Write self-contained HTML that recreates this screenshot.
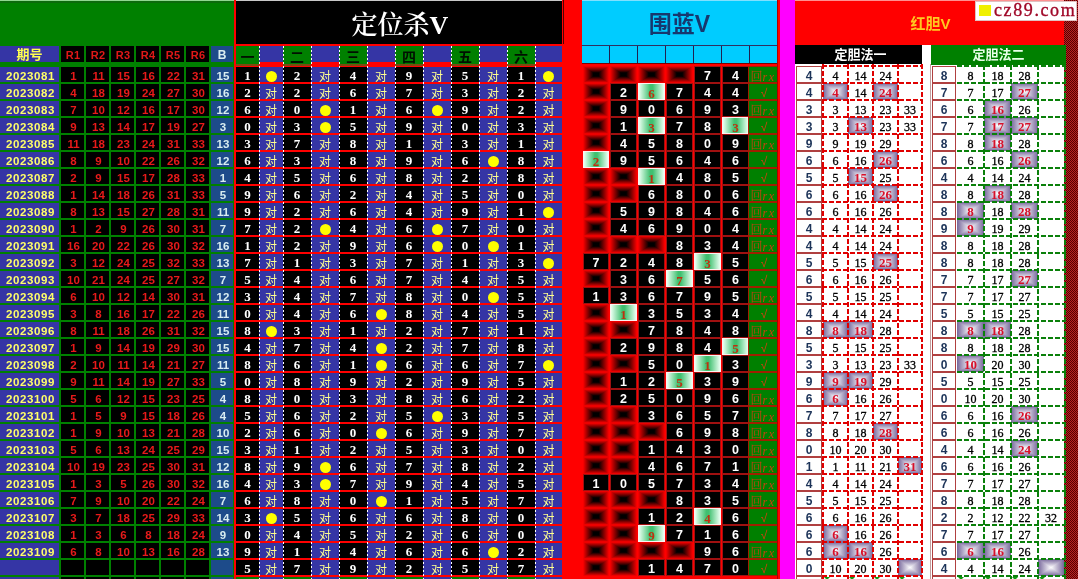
<!DOCTYPE html>
<html><head><meta charset="utf-8"><style>
*{margin:0;padding:0}
html,body{width:1078px;height:579px;overflow:hidden;background:#fff}
body{position:relative}
div{position:absolute;overflow:hidden;white-space:nowrap}
span{position:relative}
.c{display:flex;align-items:center;justify-content:center}
.qb{background:#3535a5}
.bk{background:#000}
.bb{background:#1d4b8a}
.wd{background:repeating-linear-gradient(180deg,#fff 0 2px,transparent 2px 4px)}
.bl{background:linear-gradient(90deg,#f00,#000 40%,#000 60%,#f00),linear-gradient(180deg,#f00,#000 40%,#000 60%,#f00);background-blend-mode:lighten}
.hl{border:1px solid #fff0f0;box-sizing:border-box;background:linear-gradient(90deg,#e8fff0 0%,#40c070 45%,#40c070 55%,#e8fff0 100%)}
.wb{border:1px solid #a01010;box-sizing:border-box;background:#000}
.rs{background:#008000;outline:1px solid #a02000}
.kb{border:1px solid #b04040;box-sizing:border-box;background:#fff}
.hg{background:linear-gradient(90deg,#76669a,#fff 50%,#76669a),linear-gradient(180deg,#76669a,#fff 50%,#76669a);background-blend-mode:darken}
.vr{background:repeating-linear-gradient(180deg,#e00000 0 5px,transparent 5px 7px)}
.vg{background:repeating-linear-gradient(180deg,#0a800a 0 5px,transparent 5px 7px)}
.hr2{background:repeating-linear-gradient(90deg,#e00000 0 5px,transparent 5px 7px)}
.hg2{background:repeating-linear-gradient(90deg,#0a800a 0 5px,transparent 5px 7px)}
.h1{color:#ffff50;font:bold 13px/16px 'Liberation Sans','Noto Sans CJK SC',sans-serif;top:1px}
.hr{color:#e01818;font:bold 11px/16px 'Liberation Sans',sans-serif;top:1px;left:.5px;letter-spacing:.3px}
.hb{color:#d8ecf0;font:bold 12px/16px 'Liberation Sans',sans-serif;top:1px}
.h6{color:#001000;font:bold 14px/18px 'Liberation Sans','Noto Sans CJK SC',sans-serif;top:2px}
.t1{color:#fff;font:600 26px/43px 'Liberation Serif','Noto Serif CJK SC',serif;top:3px;left:1px}
.t2{color:#17386e;font:bold 23px/45px 'Liberation Sans','Noto Sans CJK SC',sans-serif;top:1.5px;left:0px}
.t3{color:#ffc820;font:bold 15px/46px 'Liberation Sans','Noto Sans CJK SC',sans-serif;left:1px;top:1.5px}
.t4{color:#fff;font:bold 13px/19px 'Liberation Sans','Noto Sans CJK SC',sans-serif;left:2px}
.t5{color:#e8ffe8;font:bold 13px/20px 'Liberation Sans','Noto Sans CJK SC',sans-serif}
.pn{color:#ffff68;font:bold 11.5px/15px 'Liberation Sans',sans-serif;top:1.5px;left:1px;letter-spacing:.6px}
.rn{color:#e81a1a;font:bold 11.5px/15px 'Liberation Sans',sans-serif;top:1.5px;left:1px}
.bn{color:#d8ecf0;font:bold 11.5px/15px 'Liberation Sans',sans-serif;top:1.5px;left:1px}
.dn{color:#fff;font:bold 13px/15px 'Liberation Serif',serif;top:.5px}
.dd{color:#ffff90;font:400 12px/15px 'Liberation Sans','Noto Sans CJK SC',sans-serif;top:3px}
.dot{display:block;width:11px;height:11px;border-radius:50%;background:#ffff00;margin-top:3px}
.wn{color:#fff;font:bold 12.5px/15px 'Liberation Sans',sans-serif;top:2px}
.hn{color:#c03010;font:bold 13px/15px 'Liberation Serif',serif;top:2px}
.ok{color:#d04010;font:12px/15px 'Liberation Sans',sans-serif;top:1.5px;left:1px}
.ng{color:#c84010;font:12px/15px 'Liberation Serif','Noto Serif CJK SC',serif;top:2.5px}
.ng i{font:italic 12px/15px 'Liberation Serif',serif;letter-spacing:1.5px}
.hk{color:#1c3358;font:bold 12px/15px 'Liberation Sans',sans-serif;top:2px}
.hv{color:#000;font:12px/15px 'Liberation Serif',serif;top:1.5px;-webkit-text-stroke:.3px #000}
.hh{color:#d8102a;font:bold 13px/15px 'Liberation Serif',serif;top:.5px}
.wm{color:#a00828;font:18px/21px 'Liberation Serif',serif;letter-spacing:1.6px;-webkit-text-stroke:.35px #a00828}
</style></head>
<body>
<div style="left:0px;top:0px;width:234px;height:579px;background:#008000"></div>
<div style="left:0px;top:0px;width:234px;height:1px;background:#8fd88f"></div>
<div style="left:0px;top:1px;width:234px;height:2px;background:#0c6a0c"></div>
<div class="c qb" style="left:0px;top:46px;width:59px;height:16px;"><span class="h1">期号</span></div>
<div class="c bk" style="left:61px;top:46px;width:23px;height:16px;"><span class="hr">R1</span></div>
<div class="c bk" style="left:86px;top:46px;width:23px;height:16px;"><span class="hr">R2</span></div>
<div class="c bk" style="left:111px;top:46px;width:23px;height:16px;"><span class="hr">R3</span></div>
<div class="c bk" style="left:136px;top:46px;width:23px;height:16px;"><span class="hr">R4</span></div>
<div class="c bk" style="left:161px;top:46px;width:23px;height:16px;"><span class="hr">R5</span></div>
<div class="c bk" style="left:186px;top:46px;width:23px;height:16px;"><span class="hr">R6</span></div>
<div class="c bb" style="left:211px;top:46px;width:22px;height:16px;"><span class="hb">B</span></div>
<div class="c qb" style="left:0px;top:67px;width:59px;height:15px;"><span class="pn">2023081</span></div>
<div class="c bk" style="left:61px;top:67px;width:23px;height:15px;"><span class="rn">1</span></div>
<div class="c bk" style="left:86px;top:67px;width:23px;height:15px;"><span class="rn">11</span></div>
<div class="c bk" style="left:111px;top:67px;width:23px;height:15px;"><span class="rn">15</span></div>
<div class="c bk" style="left:136px;top:67px;width:23px;height:15px;"><span class="rn">16</span></div>
<div class="c bk" style="left:161px;top:67px;width:23px;height:15px;"><span class="rn">22</span></div>
<div class="c bk" style="left:186px;top:67px;width:23px;height:15px;"><span class="rn">31</span></div>
<div class="c bb" style="left:211px;top:67px;width:22px;height:15px;"><span class="bn">15</span></div>
<div class="c qb" style="left:0px;top:84px;width:59px;height:15px;"><span class="pn">2023082</span></div>
<div class="c bk" style="left:61px;top:84px;width:23px;height:15px;"><span class="rn">4</span></div>
<div class="c bk" style="left:86px;top:84px;width:23px;height:15px;"><span class="rn">18</span></div>
<div class="c bk" style="left:111px;top:84px;width:23px;height:15px;"><span class="rn">19</span></div>
<div class="c bk" style="left:136px;top:84px;width:23px;height:15px;"><span class="rn">24</span></div>
<div class="c bk" style="left:161px;top:84px;width:23px;height:15px;"><span class="rn">27</span></div>
<div class="c bk" style="left:186px;top:84px;width:23px;height:15px;"><span class="rn">30</span></div>
<div class="c bb" style="left:211px;top:84px;width:22px;height:15px;"><span class="bn">16</span></div>
<div class="c qb" style="left:0px;top:101px;width:59px;height:15px;"><span class="pn">2023083</span></div>
<div class="c bk" style="left:61px;top:101px;width:23px;height:15px;"><span class="rn">7</span></div>
<div class="c bk" style="left:86px;top:101px;width:23px;height:15px;"><span class="rn">10</span></div>
<div class="c bk" style="left:111px;top:101px;width:23px;height:15px;"><span class="rn">12</span></div>
<div class="c bk" style="left:136px;top:101px;width:23px;height:15px;"><span class="rn">16</span></div>
<div class="c bk" style="left:161px;top:101px;width:23px;height:15px;"><span class="rn">17</span></div>
<div class="c bk" style="left:186px;top:101px;width:23px;height:15px;"><span class="rn">30</span></div>
<div class="c bb" style="left:211px;top:101px;width:22px;height:15px;"><span class="bn">12</span></div>
<div class="c qb" style="left:0px;top:118px;width:59px;height:15px;"><span class="pn">2023084</span></div>
<div class="c bk" style="left:61px;top:118px;width:23px;height:15px;"><span class="rn">9</span></div>
<div class="c bk" style="left:86px;top:118px;width:23px;height:15px;"><span class="rn">13</span></div>
<div class="c bk" style="left:111px;top:118px;width:23px;height:15px;"><span class="rn">14</span></div>
<div class="c bk" style="left:136px;top:118px;width:23px;height:15px;"><span class="rn">17</span></div>
<div class="c bk" style="left:161px;top:118px;width:23px;height:15px;"><span class="rn">19</span></div>
<div class="c bk" style="left:186px;top:118px;width:23px;height:15px;"><span class="rn">27</span></div>
<div class="c bb" style="left:211px;top:118px;width:22px;height:15px;"><span class="bn">3</span></div>
<div class="c qb" style="left:0px;top:135px;width:59px;height:15px;"><span class="pn">2023085</span></div>
<div class="c bk" style="left:61px;top:135px;width:23px;height:15px;"><span class="rn">11</span></div>
<div class="c bk" style="left:86px;top:135px;width:23px;height:15px;"><span class="rn">18</span></div>
<div class="c bk" style="left:111px;top:135px;width:23px;height:15px;"><span class="rn">23</span></div>
<div class="c bk" style="left:136px;top:135px;width:23px;height:15px;"><span class="rn">24</span></div>
<div class="c bk" style="left:161px;top:135px;width:23px;height:15px;"><span class="rn">31</span></div>
<div class="c bk" style="left:186px;top:135px;width:23px;height:15px;"><span class="rn">33</span></div>
<div class="c bb" style="left:211px;top:135px;width:22px;height:15px;"><span class="bn">13</span></div>
<div class="c qb" style="left:0px;top:152px;width:59px;height:15px;"><span class="pn">2023086</span></div>
<div class="c bk" style="left:61px;top:152px;width:23px;height:15px;"><span class="rn">8</span></div>
<div class="c bk" style="left:86px;top:152px;width:23px;height:15px;"><span class="rn">9</span></div>
<div class="c bk" style="left:111px;top:152px;width:23px;height:15px;"><span class="rn">10</span></div>
<div class="c bk" style="left:136px;top:152px;width:23px;height:15px;"><span class="rn">22</span></div>
<div class="c bk" style="left:161px;top:152px;width:23px;height:15px;"><span class="rn">26</span></div>
<div class="c bk" style="left:186px;top:152px;width:23px;height:15px;"><span class="rn">32</span></div>
<div class="c bb" style="left:211px;top:152px;width:22px;height:15px;"><span class="bn">12</span></div>
<div class="c qb" style="left:0px;top:169px;width:59px;height:15px;"><span class="pn">2023087</span></div>
<div class="c bk" style="left:61px;top:169px;width:23px;height:15px;"><span class="rn">2</span></div>
<div class="c bk" style="left:86px;top:169px;width:23px;height:15px;"><span class="rn">9</span></div>
<div class="c bk" style="left:111px;top:169px;width:23px;height:15px;"><span class="rn">15</span></div>
<div class="c bk" style="left:136px;top:169px;width:23px;height:15px;"><span class="rn">17</span></div>
<div class="c bk" style="left:161px;top:169px;width:23px;height:15px;"><span class="rn">28</span></div>
<div class="c bk" style="left:186px;top:169px;width:23px;height:15px;"><span class="rn">33</span></div>
<div class="c bb" style="left:211px;top:169px;width:22px;height:15px;"><span class="bn">1</span></div>
<div class="c qb" style="left:0px;top:186px;width:59px;height:15px;"><span class="pn">2023088</span></div>
<div class="c bk" style="left:61px;top:186px;width:23px;height:15px;"><span class="rn">1</span></div>
<div class="c bk" style="left:86px;top:186px;width:23px;height:15px;"><span class="rn">14</span></div>
<div class="c bk" style="left:111px;top:186px;width:23px;height:15px;"><span class="rn">18</span></div>
<div class="c bk" style="left:136px;top:186px;width:23px;height:15px;"><span class="rn">26</span></div>
<div class="c bk" style="left:161px;top:186px;width:23px;height:15px;"><span class="rn">31</span></div>
<div class="c bk" style="left:186px;top:186px;width:23px;height:15px;"><span class="rn">33</span></div>
<div class="c bb" style="left:211px;top:186px;width:22px;height:15px;"><span class="bn">5</span></div>
<div class="c qb" style="left:0px;top:203px;width:59px;height:15px;"><span class="pn">2023089</span></div>
<div class="c bk" style="left:61px;top:203px;width:23px;height:15px;"><span class="rn">8</span></div>
<div class="c bk" style="left:86px;top:203px;width:23px;height:15px;"><span class="rn">13</span></div>
<div class="c bk" style="left:111px;top:203px;width:23px;height:15px;"><span class="rn">15</span></div>
<div class="c bk" style="left:136px;top:203px;width:23px;height:15px;"><span class="rn">27</span></div>
<div class="c bk" style="left:161px;top:203px;width:23px;height:15px;"><span class="rn">28</span></div>
<div class="c bk" style="left:186px;top:203px;width:23px;height:15px;"><span class="rn">31</span></div>
<div class="c bb" style="left:211px;top:203px;width:22px;height:15px;"><span class="bn">11</span></div>
<div class="c qb" style="left:0px;top:220px;width:59px;height:15px;"><span class="pn">2023090</span></div>
<div class="c bk" style="left:61px;top:220px;width:23px;height:15px;"><span class="rn">1</span></div>
<div class="c bk" style="left:86px;top:220px;width:23px;height:15px;"><span class="rn">2</span></div>
<div class="c bk" style="left:111px;top:220px;width:23px;height:15px;"><span class="rn">9</span></div>
<div class="c bk" style="left:136px;top:220px;width:23px;height:15px;"><span class="rn">26</span></div>
<div class="c bk" style="left:161px;top:220px;width:23px;height:15px;"><span class="rn">30</span></div>
<div class="c bk" style="left:186px;top:220px;width:23px;height:15px;"><span class="rn">31</span></div>
<div class="c bb" style="left:211px;top:220px;width:22px;height:15px;"><span class="bn">7</span></div>
<div class="c qb" style="left:0px;top:237px;width:59px;height:15px;"><span class="pn">2023091</span></div>
<div class="c bk" style="left:61px;top:237px;width:23px;height:15px;"><span class="rn">16</span></div>
<div class="c bk" style="left:86px;top:237px;width:23px;height:15px;"><span class="rn">20</span></div>
<div class="c bk" style="left:111px;top:237px;width:23px;height:15px;"><span class="rn">22</span></div>
<div class="c bk" style="left:136px;top:237px;width:23px;height:15px;"><span class="rn">26</span></div>
<div class="c bk" style="left:161px;top:237px;width:23px;height:15px;"><span class="rn">30</span></div>
<div class="c bk" style="left:186px;top:237px;width:23px;height:15px;"><span class="rn">32</span></div>
<div class="c bb" style="left:211px;top:237px;width:22px;height:15px;"><span class="bn">16</span></div>
<div class="c qb" style="left:0px;top:254px;width:59px;height:15px;"><span class="pn">2023092</span></div>
<div class="c bk" style="left:61px;top:254px;width:23px;height:15px;"><span class="rn">3</span></div>
<div class="c bk" style="left:86px;top:254px;width:23px;height:15px;"><span class="rn">12</span></div>
<div class="c bk" style="left:111px;top:254px;width:23px;height:15px;"><span class="rn">24</span></div>
<div class="c bk" style="left:136px;top:254px;width:23px;height:15px;"><span class="rn">25</span></div>
<div class="c bk" style="left:161px;top:254px;width:23px;height:15px;"><span class="rn">32</span></div>
<div class="c bk" style="left:186px;top:254px;width:23px;height:15px;"><span class="rn">33</span></div>
<div class="c bb" style="left:211px;top:254px;width:22px;height:15px;"><span class="bn">13</span></div>
<div class="c qb" style="left:0px;top:271px;width:59px;height:15px;"><span class="pn">2023093</span></div>
<div class="c bk" style="left:61px;top:271px;width:23px;height:15px;"><span class="rn">10</span></div>
<div class="c bk" style="left:86px;top:271px;width:23px;height:15px;"><span class="rn">21</span></div>
<div class="c bk" style="left:111px;top:271px;width:23px;height:15px;"><span class="rn">24</span></div>
<div class="c bk" style="left:136px;top:271px;width:23px;height:15px;"><span class="rn">25</span></div>
<div class="c bk" style="left:161px;top:271px;width:23px;height:15px;"><span class="rn">27</span></div>
<div class="c bk" style="left:186px;top:271px;width:23px;height:15px;"><span class="rn">32</span></div>
<div class="c bb" style="left:211px;top:271px;width:22px;height:15px;"><span class="bn">7</span></div>
<div class="c qb" style="left:0px;top:288px;width:59px;height:15px;"><span class="pn">2023094</span></div>
<div class="c bk" style="left:61px;top:288px;width:23px;height:15px;"><span class="rn">6</span></div>
<div class="c bk" style="left:86px;top:288px;width:23px;height:15px;"><span class="rn">10</span></div>
<div class="c bk" style="left:111px;top:288px;width:23px;height:15px;"><span class="rn">12</span></div>
<div class="c bk" style="left:136px;top:288px;width:23px;height:15px;"><span class="rn">14</span></div>
<div class="c bk" style="left:161px;top:288px;width:23px;height:15px;"><span class="rn">30</span></div>
<div class="c bk" style="left:186px;top:288px;width:23px;height:15px;"><span class="rn">31</span></div>
<div class="c bb" style="left:211px;top:288px;width:22px;height:15px;"><span class="bn">12</span></div>
<div class="c qb" style="left:0px;top:305px;width:59px;height:15px;"><span class="pn">2023095</span></div>
<div class="c bk" style="left:61px;top:305px;width:23px;height:15px;"><span class="rn">3</span></div>
<div class="c bk" style="left:86px;top:305px;width:23px;height:15px;"><span class="rn">8</span></div>
<div class="c bk" style="left:111px;top:305px;width:23px;height:15px;"><span class="rn">16</span></div>
<div class="c bk" style="left:136px;top:305px;width:23px;height:15px;"><span class="rn">17</span></div>
<div class="c bk" style="left:161px;top:305px;width:23px;height:15px;"><span class="rn">22</span></div>
<div class="c bk" style="left:186px;top:305px;width:23px;height:15px;"><span class="rn">26</span></div>
<div class="c bb" style="left:211px;top:305px;width:22px;height:15px;"><span class="bn">11</span></div>
<div class="c qb" style="left:0px;top:322px;width:59px;height:15px;"><span class="pn">2023096</span></div>
<div class="c bk" style="left:61px;top:322px;width:23px;height:15px;"><span class="rn">8</span></div>
<div class="c bk" style="left:86px;top:322px;width:23px;height:15px;"><span class="rn">11</span></div>
<div class="c bk" style="left:111px;top:322px;width:23px;height:15px;"><span class="rn">18</span></div>
<div class="c bk" style="left:136px;top:322px;width:23px;height:15px;"><span class="rn">26</span></div>
<div class="c bk" style="left:161px;top:322px;width:23px;height:15px;"><span class="rn">31</span></div>
<div class="c bk" style="left:186px;top:322px;width:23px;height:15px;"><span class="rn">32</span></div>
<div class="c bb" style="left:211px;top:322px;width:22px;height:15px;"><span class="bn">15</span></div>
<div class="c qb" style="left:0px;top:339px;width:59px;height:15px;"><span class="pn">2023097</span></div>
<div class="c bk" style="left:61px;top:339px;width:23px;height:15px;"><span class="rn">1</span></div>
<div class="c bk" style="left:86px;top:339px;width:23px;height:15px;"><span class="rn">9</span></div>
<div class="c bk" style="left:111px;top:339px;width:23px;height:15px;"><span class="rn">14</span></div>
<div class="c bk" style="left:136px;top:339px;width:23px;height:15px;"><span class="rn">19</span></div>
<div class="c bk" style="left:161px;top:339px;width:23px;height:15px;"><span class="rn">29</span></div>
<div class="c bk" style="left:186px;top:339px;width:23px;height:15px;"><span class="rn">30</span></div>
<div class="c bb" style="left:211px;top:339px;width:22px;height:15px;"><span class="bn">15</span></div>
<div class="c qb" style="left:0px;top:356px;width:59px;height:15px;"><span class="pn">2023098</span></div>
<div class="c bk" style="left:61px;top:356px;width:23px;height:15px;"><span class="rn">2</span></div>
<div class="c bk" style="left:86px;top:356px;width:23px;height:15px;"><span class="rn">10</span></div>
<div class="c bk" style="left:111px;top:356px;width:23px;height:15px;"><span class="rn">11</span></div>
<div class="c bk" style="left:136px;top:356px;width:23px;height:15px;"><span class="rn">14</span></div>
<div class="c bk" style="left:161px;top:356px;width:23px;height:15px;"><span class="rn">21</span></div>
<div class="c bk" style="left:186px;top:356px;width:23px;height:15px;"><span class="rn">27</span></div>
<div class="c bb" style="left:211px;top:356px;width:22px;height:15px;"><span class="bn">11</span></div>
<div class="c qb" style="left:0px;top:373px;width:59px;height:15px;"><span class="pn">2023099</span></div>
<div class="c bk" style="left:61px;top:373px;width:23px;height:15px;"><span class="rn">9</span></div>
<div class="c bk" style="left:86px;top:373px;width:23px;height:15px;"><span class="rn">11</span></div>
<div class="c bk" style="left:111px;top:373px;width:23px;height:15px;"><span class="rn">14</span></div>
<div class="c bk" style="left:136px;top:373px;width:23px;height:15px;"><span class="rn">19</span></div>
<div class="c bk" style="left:161px;top:373px;width:23px;height:15px;"><span class="rn">27</span></div>
<div class="c bk" style="left:186px;top:373px;width:23px;height:15px;"><span class="rn">33</span></div>
<div class="c bb" style="left:211px;top:373px;width:22px;height:15px;"><span class="bn">5</span></div>
<div class="c qb" style="left:0px;top:390px;width:59px;height:15px;"><span class="pn">2023100</span></div>
<div class="c bk" style="left:61px;top:390px;width:23px;height:15px;"><span class="rn">5</span></div>
<div class="c bk" style="left:86px;top:390px;width:23px;height:15px;"><span class="rn">6</span></div>
<div class="c bk" style="left:111px;top:390px;width:23px;height:15px;"><span class="rn">12</span></div>
<div class="c bk" style="left:136px;top:390px;width:23px;height:15px;"><span class="rn">15</span></div>
<div class="c bk" style="left:161px;top:390px;width:23px;height:15px;"><span class="rn">23</span></div>
<div class="c bk" style="left:186px;top:390px;width:23px;height:15px;"><span class="rn">25</span></div>
<div class="c bb" style="left:211px;top:390px;width:22px;height:15px;"><span class="bn">4</span></div>
<div class="c qb" style="left:0px;top:407px;width:59px;height:15px;"><span class="pn">2023101</span></div>
<div class="c bk" style="left:61px;top:407px;width:23px;height:15px;"><span class="rn">1</span></div>
<div class="c bk" style="left:86px;top:407px;width:23px;height:15px;"><span class="rn">5</span></div>
<div class="c bk" style="left:111px;top:407px;width:23px;height:15px;"><span class="rn">9</span></div>
<div class="c bk" style="left:136px;top:407px;width:23px;height:15px;"><span class="rn">15</span></div>
<div class="c bk" style="left:161px;top:407px;width:23px;height:15px;"><span class="rn">18</span></div>
<div class="c bk" style="left:186px;top:407px;width:23px;height:15px;"><span class="rn">26</span></div>
<div class="c bb" style="left:211px;top:407px;width:22px;height:15px;"><span class="bn">4</span></div>
<div class="c qb" style="left:0px;top:424px;width:59px;height:15px;"><span class="pn">2023102</span></div>
<div class="c bk" style="left:61px;top:424px;width:23px;height:15px;"><span class="rn">1</span></div>
<div class="c bk" style="left:86px;top:424px;width:23px;height:15px;"><span class="rn">9</span></div>
<div class="c bk" style="left:111px;top:424px;width:23px;height:15px;"><span class="rn">10</span></div>
<div class="c bk" style="left:136px;top:424px;width:23px;height:15px;"><span class="rn">13</span></div>
<div class="c bk" style="left:161px;top:424px;width:23px;height:15px;"><span class="rn">21</span></div>
<div class="c bk" style="left:186px;top:424px;width:23px;height:15px;"><span class="rn">28</span></div>
<div class="c bb" style="left:211px;top:424px;width:22px;height:15px;"><span class="bn">10</span></div>
<div class="c qb" style="left:0px;top:441px;width:59px;height:15px;"><span class="pn">2023103</span></div>
<div class="c bk" style="left:61px;top:441px;width:23px;height:15px;"><span class="rn">5</span></div>
<div class="c bk" style="left:86px;top:441px;width:23px;height:15px;"><span class="rn">6</span></div>
<div class="c bk" style="left:111px;top:441px;width:23px;height:15px;"><span class="rn">13</span></div>
<div class="c bk" style="left:136px;top:441px;width:23px;height:15px;"><span class="rn">24</span></div>
<div class="c bk" style="left:161px;top:441px;width:23px;height:15px;"><span class="rn">25</span></div>
<div class="c bk" style="left:186px;top:441px;width:23px;height:15px;"><span class="rn">29</span></div>
<div class="c bb" style="left:211px;top:441px;width:22px;height:15px;"><span class="bn">15</span></div>
<div class="c qb" style="left:0px;top:458px;width:59px;height:15px;"><span class="pn">2023104</span></div>
<div class="c bk" style="left:61px;top:458px;width:23px;height:15px;"><span class="rn">10</span></div>
<div class="c bk" style="left:86px;top:458px;width:23px;height:15px;"><span class="rn">19</span></div>
<div class="c bk" style="left:111px;top:458px;width:23px;height:15px;"><span class="rn">23</span></div>
<div class="c bk" style="left:136px;top:458px;width:23px;height:15px;"><span class="rn">25</span></div>
<div class="c bk" style="left:161px;top:458px;width:23px;height:15px;"><span class="rn">30</span></div>
<div class="c bk" style="left:186px;top:458px;width:23px;height:15px;"><span class="rn">31</span></div>
<div class="c bb" style="left:211px;top:458px;width:22px;height:15px;"><span class="bn">12</span></div>
<div class="c qb" style="left:0px;top:475px;width:59px;height:15px;"><span class="pn">2023105</span></div>
<div class="c bk" style="left:61px;top:475px;width:23px;height:15px;"><span class="rn">1</span></div>
<div class="c bk" style="left:86px;top:475px;width:23px;height:15px;"><span class="rn">3</span></div>
<div class="c bk" style="left:111px;top:475px;width:23px;height:15px;"><span class="rn">5</span></div>
<div class="c bk" style="left:136px;top:475px;width:23px;height:15px;"><span class="rn">26</span></div>
<div class="c bk" style="left:161px;top:475px;width:23px;height:15px;"><span class="rn">30</span></div>
<div class="c bk" style="left:186px;top:475px;width:23px;height:15px;"><span class="rn">32</span></div>
<div class="c bb" style="left:211px;top:475px;width:22px;height:15px;"><span class="bn">16</span></div>
<div class="c qb" style="left:0px;top:492px;width:59px;height:15px;"><span class="pn">2023106</span></div>
<div class="c bk" style="left:61px;top:492px;width:23px;height:15px;"><span class="rn">7</span></div>
<div class="c bk" style="left:86px;top:492px;width:23px;height:15px;"><span class="rn">9</span></div>
<div class="c bk" style="left:111px;top:492px;width:23px;height:15px;"><span class="rn">10</span></div>
<div class="c bk" style="left:136px;top:492px;width:23px;height:15px;"><span class="rn">20</span></div>
<div class="c bk" style="left:161px;top:492px;width:23px;height:15px;"><span class="rn">22</span></div>
<div class="c bk" style="left:186px;top:492px;width:23px;height:15px;"><span class="rn">24</span></div>
<div class="c bb" style="left:211px;top:492px;width:22px;height:15px;"><span class="bn">7</span></div>
<div class="c qb" style="left:0px;top:509px;width:59px;height:15px;"><span class="pn">2023107</span></div>
<div class="c bk" style="left:61px;top:509px;width:23px;height:15px;"><span class="rn">3</span></div>
<div class="c bk" style="left:86px;top:509px;width:23px;height:15px;"><span class="rn">7</span></div>
<div class="c bk" style="left:111px;top:509px;width:23px;height:15px;"><span class="rn">18</span></div>
<div class="c bk" style="left:136px;top:509px;width:23px;height:15px;"><span class="rn">25</span></div>
<div class="c bk" style="left:161px;top:509px;width:23px;height:15px;"><span class="rn">29</span></div>
<div class="c bk" style="left:186px;top:509px;width:23px;height:15px;"><span class="rn">33</span></div>
<div class="c bb" style="left:211px;top:509px;width:22px;height:15px;"><span class="bn">14</span></div>
<div class="c qb" style="left:0px;top:526px;width:59px;height:15px;"><span class="pn">2023108</span></div>
<div class="c bk" style="left:61px;top:526px;width:23px;height:15px;"><span class="rn">1</span></div>
<div class="c bk" style="left:86px;top:526px;width:23px;height:15px;"><span class="rn">3</span></div>
<div class="c bk" style="left:111px;top:526px;width:23px;height:15px;"><span class="rn">6</span></div>
<div class="c bk" style="left:136px;top:526px;width:23px;height:15px;"><span class="rn">8</span></div>
<div class="c bk" style="left:161px;top:526px;width:23px;height:15px;"><span class="rn">18</span></div>
<div class="c bk" style="left:186px;top:526px;width:23px;height:15px;"><span class="rn">24</span></div>
<div class="c bb" style="left:211px;top:526px;width:22px;height:15px;"><span class="bn">9</span></div>
<div class="c qb" style="left:0px;top:543px;width:59px;height:15px;"><span class="pn">2023109</span></div>
<div class="c bk" style="left:61px;top:543px;width:23px;height:15px;"><span class="rn">6</span></div>
<div class="c bk" style="left:86px;top:543px;width:23px;height:15px;"><span class="rn">8</span></div>
<div class="c bk" style="left:111px;top:543px;width:23px;height:15px;"><span class="rn">10</span></div>
<div class="c bk" style="left:136px;top:543px;width:23px;height:15px;"><span class="rn">13</span></div>
<div class="c bk" style="left:161px;top:543px;width:23px;height:15px;"><span class="rn">16</span></div>
<div class="c bk" style="left:186px;top:543px;width:23px;height:15px;"><span class="rn">28</span></div>
<div class="c bb" style="left:211px;top:543px;width:22px;height:15px;"><span class="bn">13</span></div>
<div class="c qb" style="left:0px;top:560px;width:59px;height:15px;"></div>
<div class="c bk" style="left:61px;top:560px;width:23px;height:15px;"></div>
<div class="c bk" style="left:86px;top:560px;width:23px;height:15px;"></div>
<div class="c bk" style="left:111px;top:560px;width:23px;height:15px;"></div>
<div class="c bk" style="left:136px;top:560px;width:23px;height:15px;"></div>
<div class="c bk" style="left:161px;top:560px;width:23px;height:15px;"></div>
<div class="c bk" style="left:186px;top:560px;width:23px;height:15px;"></div>
<div class="c bb" style="left:211px;top:560px;width:22px;height:15px;"></div>
<div class="c qb" style="left:0px;top:577px;width:59px;height:15px;"></div>
<div class="c bk" style="left:61px;top:577px;width:23px;height:15px;"></div>
<div class="c bk" style="left:86px;top:577px;width:23px;height:15px;"></div>
<div class="c bk" style="left:111px;top:577px;width:23px;height:15px;"></div>
<div class="c bk" style="left:136px;top:577px;width:23px;height:15px;"></div>
<div class="c bk" style="left:161px;top:577px;width:23px;height:15px;"></div>
<div class="c bk" style="left:186px;top:577px;width:23px;height:15px;"></div>
<div class="c bb" style="left:211px;top:577px;width:22px;height:15px;"></div>
<div style="left:234px;top:0px;width:2px;height:579px;background:#ff0000"></div>
<div style="left:236px;top:0px;width:346px;height:579px;background:#ff0000"></div>
<div style="left:236px;top:0px;width:326px;height:1px;background:#c8c8c8"></div>
<div style="left:563px;top:0px;width:1px;height:44px;background:#500000"></div>
<div class="c" style="left:236px;top:1px;width:326px;height:43px;background:#000"><span class="t1">定位杀V</span></div>
<div class="c" style="left:236px;top:46px;width:23px;height:18px;background:#008000"><span class="h6">一</span></div>
<div style="left:236px;top:64px;width:23px;height:2px;background:#7a4a10"></div>
<div class="qb" style="left:259px;top:46px;width:24px;height:16px;"></div>
<div class="c" style="left:283px;top:46px;width:28px;height:18px;background:#008000"><span class="h6">二</span></div>
<div style="left:283px;top:64px;width:28px;height:2px;background:#7a4a10"></div>
<div class="qb" style="left:311px;top:46px;width:28px;height:16px;"></div>
<div class="c" style="left:339px;top:46px;width:28px;height:18px;background:#008000"><span class="h6">三</span></div>
<div style="left:339px;top:64px;width:28px;height:2px;background:#7a4a10"></div>
<div class="qb" style="left:367px;top:46px;width:28px;height:16px;"></div>
<div class="c" style="left:395px;top:46px;width:28px;height:18px;background:#008000"><span class="h6">四</span></div>
<div style="left:395px;top:64px;width:28px;height:2px;background:#7a4a10"></div>
<div class="qb" style="left:423px;top:46px;width:28px;height:16px;"></div>
<div class="c" style="left:451px;top:46px;width:28px;height:18px;background:#008000"><span class="h6">五</span></div>
<div style="left:451px;top:64px;width:28px;height:2px;background:#7a4a10"></div>
<div class="qb" style="left:479px;top:46px;width:28px;height:16px;"></div>
<div class="c" style="left:507px;top:46px;width:28px;height:18px;background:#008000"><span class="h6">六</span></div>
<div style="left:507px;top:64px;width:28px;height:2px;background:#7a4a10"></div>
<div class="qb" style="left:535px;top:46px;width:27px;height:16px;"></div>
<div class="c bk" style="left:236px;top:67px;width:23px;height:15px;"><span class="dn">1</span></div>
<div class="c qb" style="left:259px;top:67px;width:24px;height:15px;"><i class="dot"></i></div>
<div class="c bk" style="left:283px;top:67px;width:28px;height:15px;"><span class="dn">2</span></div>
<div class="c qb" style="left:311px;top:67px;width:28px;height:15px;"><span class="dd">对</span></div>
<div class="c bk" style="left:339px;top:67px;width:28px;height:15px;"><span class="dn">4</span></div>
<div class="c qb" style="left:367px;top:67px;width:28px;height:15px;"><span class="dd">对</span></div>
<div class="c bk" style="left:395px;top:67px;width:28px;height:15px;"><span class="dn">9</span></div>
<div class="c qb" style="left:423px;top:67px;width:28px;height:15px;"><span class="dd">对</span></div>
<div class="c bk" style="left:451px;top:67px;width:28px;height:15px;"><span class="dn">5</span></div>
<div class="c qb" style="left:479px;top:67px;width:28px;height:15px;"><span class="dd">对</span></div>
<div class="c bk" style="left:507px;top:67px;width:28px;height:15px;"><span class="dn">1</span></div>
<div class="c qb" style="left:535px;top:67px;width:27px;height:15px;"><i class="dot"></i></div>
<div class="c bk" style="left:236px;top:84px;width:23px;height:15px;"><span class="dn">2</span></div>
<div class="c qb" style="left:259px;top:84px;width:24px;height:15px;"><span class="dd">对</span></div>
<div class="c bk" style="left:283px;top:84px;width:28px;height:15px;"><span class="dn">2</span></div>
<div class="c qb" style="left:311px;top:84px;width:28px;height:15px;"><span class="dd">对</span></div>
<div class="c bk" style="left:339px;top:84px;width:28px;height:15px;"><span class="dn">6</span></div>
<div class="c qb" style="left:367px;top:84px;width:28px;height:15px;"><span class="dd">对</span></div>
<div class="c bk" style="left:395px;top:84px;width:28px;height:15px;"><span class="dn">7</span></div>
<div class="c qb" style="left:423px;top:84px;width:28px;height:15px;"><span class="dd">对</span></div>
<div class="c bk" style="left:451px;top:84px;width:28px;height:15px;"><span class="dn">3</span></div>
<div class="c qb" style="left:479px;top:84px;width:28px;height:15px;"><span class="dd">对</span></div>
<div class="c bk" style="left:507px;top:84px;width:28px;height:15px;"><span class="dn">2</span></div>
<div class="c qb" style="left:535px;top:84px;width:27px;height:15px;"><span class="dd">对</span></div>
<div class="c bk" style="left:236px;top:101px;width:23px;height:15px;"><span class="dn">6</span></div>
<div class="c qb" style="left:259px;top:101px;width:24px;height:15px;"><span class="dd">对</span></div>
<div class="c bk" style="left:283px;top:101px;width:28px;height:15px;"><span class="dn">0</span></div>
<div class="c qb" style="left:311px;top:101px;width:28px;height:15px;"><i class="dot"></i></div>
<div class="c bk" style="left:339px;top:101px;width:28px;height:15px;"><span class="dn">1</span></div>
<div class="c qb" style="left:367px;top:101px;width:28px;height:15px;"><span class="dd">对</span></div>
<div class="c bk" style="left:395px;top:101px;width:28px;height:15px;"><span class="dn">6</span></div>
<div class="c qb" style="left:423px;top:101px;width:28px;height:15px;"><i class="dot"></i></div>
<div class="c bk" style="left:451px;top:101px;width:28px;height:15px;"><span class="dn">9</span></div>
<div class="c qb" style="left:479px;top:101px;width:28px;height:15px;"><span class="dd">对</span></div>
<div class="c bk" style="left:507px;top:101px;width:28px;height:15px;"><span class="dn">2</span></div>
<div class="c qb" style="left:535px;top:101px;width:27px;height:15px;"><span class="dd">对</span></div>
<div class="c bk" style="left:236px;top:118px;width:23px;height:15px;"><span class="dn">0</span></div>
<div class="c qb" style="left:259px;top:118px;width:24px;height:15px;"><span class="dd">对</span></div>
<div class="c bk" style="left:283px;top:118px;width:28px;height:15px;"><span class="dn">3</span></div>
<div class="c qb" style="left:311px;top:118px;width:28px;height:15px;"><i class="dot"></i></div>
<div class="c bk" style="left:339px;top:118px;width:28px;height:15px;"><span class="dn">5</span></div>
<div class="c qb" style="left:367px;top:118px;width:28px;height:15px;"><span class="dd">对</span></div>
<div class="c bk" style="left:395px;top:118px;width:28px;height:15px;"><span class="dn">9</span></div>
<div class="c qb" style="left:423px;top:118px;width:28px;height:15px;"><span class="dd">对</span></div>
<div class="c bk" style="left:451px;top:118px;width:28px;height:15px;"><span class="dn">0</span></div>
<div class="c qb" style="left:479px;top:118px;width:28px;height:15px;"><span class="dd">对</span></div>
<div class="c bk" style="left:507px;top:118px;width:28px;height:15px;"><span class="dn">3</span></div>
<div class="c qb" style="left:535px;top:118px;width:27px;height:15px;"><span class="dd">对</span></div>
<div class="c bk" style="left:236px;top:135px;width:23px;height:15px;"><span class="dn">3</span></div>
<div class="c qb" style="left:259px;top:135px;width:24px;height:15px;"><span class="dd">对</span></div>
<div class="c bk" style="left:283px;top:135px;width:28px;height:15px;"><span class="dn">7</span></div>
<div class="c qb" style="left:311px;top:135px;width:28px;height:15px;"><span class="dd">对</span></div>
<div class="c bk" style="left:339px;top:135px;width:28px;height:15px;"><span class="dn">8</span></div>
<div class="c qb" style="left:367px;top:135px;width:28px;height:15px;"><span class="dd">对</span></div>
<div class="c bk" style="left:395px;top:135px;width:28px;height:15px;"><span class="dn">1</span></div>
<div class="c qb" style="left:423px;top:135px;width:28px;height:15px;"><span class="dd">对</span></div>
<div class="c bk" style="left:451px;top:135px;width:28px;height:15px;"><span class="dn">3</span></div>
<div class="c qb" style="left:479px;top:135px;width:28px;height:15px;"><span class="dd">对</span></div>
<div class="c bk" style="left:507px;top:135px;width:28px;height:15px;"><span class="dn">1</span></div>
<div class="c qb" style="left:535px;top:135px;width:27px;height:15px;"><span class="dd">对</span></div>
<div class="c bk" style="left:236px;top:152px;width:23px;height:15px;"><span class="dn">6</span></div>
<div class="c qb" style="left:259px;top:152px;width:24px;height:15px;"><span class="dd">对</span></div>
<div class="c bk" style="left:283px;top:152px;width:28px;height:15px;"><span class="dn">3</span></div>
<div class="c qb" style="left:311px;top:152px;width:28px;height:15px;"><span class="dd">对</span></div>
<div class="c bk" style="left:339px;top:152px;width:28px;height:15px;"><span class="dn">8</span></div>
<div class="c qb" style="left:367px;top:152px;width:28px;height:15px;"><span class="dd">对</span></div>
<div class="c bk" style="left:395px;top:152px;width:28px;height:15px;"><span class="dn">9</span></div>
<div class="c qb" style="left:423px;top:152px;width:28px;height:15px;"><span class="dd">对</span></div>
<div class="c bk" style="left:451px;top:152px;width:28px;height:15px;"><span class="dn">6</span></div>
<div class="c qb" style="left:479px;top:152px;width:28px;height:15px;"><i class="dot"></i></div>
<div class="c bk" style="left:507px;top:152px;width:28px;height:15px;"><span class="dn">8</span></div>
<div class="c qb" style="left:535px;top:152px;width:27px;height:15px;"><span class="dd">对</span></div>
<div class="c bk" style="left:236px;top:169px;width:23px;height:15px;"><span class="dn">4</span></div>
<div class="c qb" style="left:259px;top:169px;width:24px;height:15px;"><span class="dd">对</span></div>
<div class="c bk" style="left:283px;top:169px;width:28px;height:15px;"><span class="dn">5</span></div>
<div class="c qb" style="left:311px;top:169px;width:28px;height:15px;"><span class="dd">对</span></div>
<div class="c bk" style="left:339px;top:169px;width:28px;height:15px;"><span class="dn">6</span></div>
<div class="c qb" style="left:367px;top:169px;width:28px;height:15px;"><span class="dd">对</span></div>
<div class="c bk" style="left:395px;top:169px;width:28px;height:15px;"><span class="dn">8</span></div>
<div class="c qb" style="left:423px;top:169px;width:28px;height:15px;"><span class="dd">对</span></div>
<div class="c bk" style="left:451px;top:169px;width:28px;height:15px;"><span class="dn">2</span></div>
<div class="c qb" style="left:479px;top:169px;width:28px;height:15px;"><span class="dd">对</span></div>
<div class="c bk" style="left:507px;top:169px;width:28px;height:15px;"><span class="dn">8</span></div>
<div class="c qb" style="left:535px;top:169px;width:27px;height:15px;"><span class="dd">对</span></div>
<div class="c bk" style="left:236px;top:186px;width:23px;height:15px;"><span class="dn">9</span></div>
<div class="c qb" style="left:259px;top:186px;width:24px;height:15px;"><span class="dd">对</span></div>
<div class="c bk" style="left:283px;top:186px;width:28px;height:15px;"><span class="dn">6</span></div>
<div class="c qb" style="left:311px;top:186px;width:28px;height:15px;"><span class="dd">对</span></div>
<div class="c bk" style="left:339px;top:186px;width:28px;height:15px;"><span class="dn">2</span></div>
<div class="c qb" style="left:367px;top:186px;width:28px;height:15px;"><span class="dd">对</span></div>
<div class="c bk" style="left:395px;top:186px;width:28px;height:15px;"><span class="dn">4</span></div>
<div class="c qb" style="left:423px;top:186px;width:28px;height:15px;"><span class="dd">对</span></div>
<div class="c bk" style="left:451px;top:186px;width:28px;height:15px;"><span class="dn">5</span></div>
<div class="c qb" style="left:479px;top:186px;width:28px;height:15px;"><span class="dd">对</span></div>
<div class="c bk" style="left:507px;top:186px;width:28px;height:15px;"><span class="dn">0</span></div>
<div class="c qb" style="left:535px;top:186px;width:27px;height:15px;"><span class="dd">对</span></div>
<div class="c bk" style="left:236px;top:203px;width:23px;height:15px;"><span class="dn">9</span></div>
<div class="c qb" style="left:259px;top:203px;width:24px;height:15px;"><span class="dd">对</span></div>
<div class="c bk" style="left:283px;top:203px;width:28px;height:15px;"><span class="dn">2</span></div>
<div class="c qb" style="left:311px;top:203px;width:28px;height:15px;"><span class="dd">对</span></div>
<div class="c bk" style="left:339px;top:203px;width:28px;height:15px;"><span class="dn">6</span></div>
<div class="c qb" style="left:367px;top:203px;width:28px;height:15px;"><span class="dd">对</span></div>
<div class="c bk" style="left:395px;top:203px;width:28px;height:15px;"><span class="dn">4</span></div>
<div class="c qb" style="left:423px;top:203px;width:28px;height:15px;"><span class="dd">对</span></div>
<div class="c bk" style="left:451px;top:203px;width:28px;height:15px;"><span class="dn">9</span></div>
<div class="c qb" style="left:479px;top:203px;width:28px;height:15px;"><span class="dd">对</span></div>
<div class="c bk" style="left:507px;top:203px;width:28px;height:15px;"><span class="dn">1</span></div>
<div class="c qb" style="left:535px;top:203px;width:27px;height:15px;"><i class="dot"></i></div>
<div class="c bk" style="left:236px;top:220px;width:23px;height:15px;"><span class="dn">7</span></div>
<div class="c qb" style="left:259px;top:220px;width:24px;height:15px;"><span class="dd">对</span></div>
<div class="c bk" style="left:283px;top:220px;width:28px;height:15px;"><span class="dn">2</span></div>
<div class="c qb" style="left:311px;top:220px;width:28px;height:15px;"><i class="dot"></i></div>
<div class="c bk" style="left:339px;top:220px;width:28px;height:15px;"><span class="dn">4</span></div>
<div class="c qb" style="left:367px;top:220px;width:28px;height:15px;"><span class="dd">对</span></div>
<div class="c bk" style="left:395px;top:220px;width:28px;height:15px;"><span class="dn">6</span></div>
<div class="c qb" style="left:423px;top:220px;width:28px;height:15px;"><i class="dot"></i></div>
<div class="c bk" style="left:451px;top:220px;width:28px;height:15px;"><span class="dn">7</span></div>
<div class="c qb" style="left:479px;top:220px;width:28px;height:15px;"><span class="dd">对</span></div>
<div class="c bk" style="left:507px;top:220px;width:28px;height:15px;"><span class="dn">0</span></div>
<div class="c qb" style="left:535px;top:220px;width:27px;height:15px;"><span class="dd">对</span></div>
<div class="c bk" style="left:236px;top:237px;width:23px;height:15px;"><span class="dn">1</span></div>
<div class="c qb" style="left:259px;top:237px;width:24px;height:15px;"><span class="dd">对</span></div>
<div class="c bk" style="left:283px;top:237px;width:28px;height:15px;"><span class="dn">2</span></div>
<div class="c qb" style="left:311px;top:237px;width:28px;height:15px;"><span class="dd">对</span></div>
<div class="c bk" style="left:339px;top:237px;width:28px;height:15px;"><span class="dn">9</span></div>
<div class="c qb" style="left:367px;top:237px;width:28px;height:15px;"><span class="dd">对</span></div>
<div class="c bk" style="left:395px;top:237px;width:28px;height:15px;"><span class="dn">6</span></div>
<div class="c qb" style="left:423px;top:237px;width:28px;height:15px;"><i class="dot"></i></div>
<div class="c bk" style="left:451px;top:237px;width:28px;height:15px;"><span class="dn">0</span></div>
<div class="c qb" style="left:479px;top:237px;width:28px;height:15px;"><i class="dot"></i></div>
<div class="c bk" style="left:507px;top:237px;width:28px;height:15px;"><span class="dn">1</span></div>
<div class="c qb" style="left:535px;top:237px;width:27px;height:15px;"><span class="dd">对</span></div>
<div class="c bk" style="left:236px;top:254px;width:23px;height:15px;"><span class="dn">7</span></div>
<div class="c qb" style="left:259px;top:254px;width:24px;height:15px;"><span class="dd">对</span></div>
<div class="c bk" style="left:283px;top:254px;width:28px;height:15px;"><span class="dn">1</span></div>
<div class="c qb" style="left:311px;top:254px;width:28px;height:15px;"><span class="dd">对</span></div>
<div class="c bk" style="left:339px;top:254px;width:28px;height:15px;"><span class="dn">3</span></div>
<div class="c qb" style="left:367px;top:254px;width:28px;height:15px;"><span class="dd">对</span></div>
<div class="c bk" style="left:395px;top:254px;width:28px;height:15px;"><span class="dn">7</span></div>
<div class="c qb" style="left:423px;top:254px;width:28px;height:15px;"><span class="dd">对</span></div>
<div class="c bk" style="left:451px;top:254px;width:28px;height:15px;"><span class="dn">1</span></div>
<div class="c qb" style="left:479px;top:254px;width:28px;height:15px;"><span class="dd">对</span></div>
<div class="c bk" style="left:507px;top:254px;width:28px;height:15px;"><span class="dn">3</span></div>
<div class="c qb" style="left:535px;top:254px;width:27px;height:15px;"><i class="dot"></i></div>
<div class="c bk" style="left:236px;top:271px;width:23px;height:15px;"><span class="dn">5</span></div>
<div class="c qb" style="left:259px;top:271px;width:24px;height:15px;"><span class="dd">对</span></div>
<div class="c bk" style="left:283px;top:271px;width:28px;height:15px;"><span class="dn">4</span></div>
<div class="c qb" style="left:311px;top:271px;width:28px;height:15px;"><span class="dd">对</span></div>
<div class="c bk" style="left:339px;top:271px;width:28px;height:15px;"><span class="dn">6</span></div>
<div class="c qb" style="left:367px;top:271px;width:28px;height:15px;"><span class="dd">对</span></div>
<div class="c bk" style="left:395px;top:271px;width:28px;height:15px;"><span class="dn">7</span></div>
<div class="c qb" style="left:423px;top:271px;width:28px;height:15px;"><span class="dd">对</span></div>
<div class="c bk" style="left:451px;top:271px;width:28px;height:15px;"><span class="dn">4</span></div>
<div class="c qb" style="left:479px;top:271px;width:28px;height:15px;"><span class="dd">对</span></div>
<div class="c bk" style="left:507px;top:271px;width:28px;height:15px;"><span class="dn">5</span></div>
<div class="c qb" style="left:535px;top:271px;width:27px;height:15px;"><span class="dd">对</span></div>
<div class="c bk" style="left:236px;top:288px;width:23px;height:15px;"><span class="dn">3</span></div>
<div class="c qb" style="left:259px;top:288px;width:24px;height:15px;"><span class="dd">对</span></div>
<div class="c bk" style="left:283px;top:288px;width:28px;height:15px;"><span class="dn">4</span></div>
<div class="c qb" style="left:311px;top:288px;width:28px;height:15px;"><span class="dd">对</span></div>
<div class="c bk" style="left:339px;top:288px;width:28px;height:15px;"><span class="dn">7</span></div>
<div class="c qb" style="left:367px;top:288px;width:28px;height:15px;"><span class="dd">对</span></div>
<div class="c bk" style="left:395px;top:288px;width:28px;height:15px;"><span class="dn">8</span></div>
<div class="c qb" style="left:423px;top:288px;width:28px;height:15px;"><span class="dd">对</span></div>
<div class="c bk" style="left:451px;top:288px;width:28px;height:15px;"><span class="dn">0</span></div>
<div class="c qb" style="left:479px;top:288px;width:28px;height:15px;"><i class="dot"></i></div>
<div class="c bk" style="left:507px;top:288px;width:28px;height:15px;"><span class="dn">5</span></div>
<div class="c qb" style="left:535px;top:288px;width:27px;height:15px;"><span class="dd">对</span></div>
<div class="c bk" style="left:236px;top:305px;width:23px;height:15px;"><span class="dn">0</span></div>
<div class="c qb" style="left:259px;top:305px;width:24px;height:15px;"><span class="dd">对</span></div>
<div class="c bk" style="left:283px;top:305px;width:28px;height:15px;"><span class="dn">4</span></div>
<div class="c qb" style="left:311px;top:305px;width:28px;height:15px;"><span class="dd">对</span></div>
<div class="c bk" style="left:339px;top:305px;width:28px;height:15px;"><span class="dn">6</span></div>
<div class="c qb" style="left:367px;top:305px;width:28px;height:15px;"><i class="dot"></i></div>
<div class="c bk" style="left:395px;top:305px;width:28px;height:15px;"><span class="dn">8</span></div>
<div class="c qb" style="left:423px;top:305px;width:28px;height:15px;"><span class="dd">对</span></div>
<div class="c bk" style="left:451px;top:305px;width:28px;height:15px;"><span class="dn">4</span></div>
<div class="c qb" style="left:479px;top:305px;width:28px;height:15px;"><span class="dd">对</span></div>
<div class="c bk" style="left:507px;top:305px;width:28px;height:15px;"><span class="dn">5</span></div>
<div class="c qb" style="left:535px;top:305px;width:27px;height:15px;"><span class="dd">对</span></div>
<div class="c bk" style="left:236px;top:322px;width:23px;height:15px;"><span class="dn">8</span></div>
<div class="c qb" style="left:259px;top:322px;width:24px;height:15px;"><i class="dot"></i></div>
<div class="c bk" style="left:283px;top:322px;width:28px;height:15px;"><span class="dn">3</span></div>
<div class="c qb" style="left:311px;top:322px;width:28px;height:15px;"><span class="dd">对</span></div>
<div class="c bk" style="left:339px;top:322px;width:28px;height:15px;"><span class="dn">1</span></div>
<div class="c qb" style="left:367px;top:322px;width:28px;height:15px;"><span class="dd">对</span></div>
<div class="c bk" style="left:395px;top:322px;width:28px;height:15px;"><span class="dn">2</span></div>
<div class="c qb" style="left:423px;top:322px;width:28px;height:15px;"><span class="dd">对</span></div>
<div class="c bk" style="left:451px;top:322px;width:28px;height:15px;"><span class="dn">7</span></div>
<div class="c qb" style="left:479px;top:322px;width:28px;height:15px;"><span class="dd">对</span></div>
<div class="c bk" style="left:507px;top:322px;width:28px;height:15px;"><span class="dn">1</span></div>
<div class="c qb" style="left:535px;top:322px;width:27px;height:15px;"><span class="dd">对</span></div>
<div class="c bk" style="left:236px;top:339px;width:23px;height:15px;"><span class="dn">4</span></div>
<div class="c qb" style="left:259px;top:339px;width:24px;height:15px;"><span class="dd">对</span></div>
<div class="c bk" style="left:283px;top:339px;width:28px;height:15px;"><span class="dn">7</span></div>
<div class="c qb" style="left:311px;top:339px;width:28px;height:15px;"><span class="dd">对</span></div>
<div class="c bk" style="left:339px;top:339px;width:28px;height:15px;"><span class="dn">4</span></div>
<div class="c qb" style="left:367px;top:339px;width:28px;height:15px;"><i class="dot"></i></div>
<div class="c bk" style="left:395px;top:339px;width:28px;height:15px;"><span class="dn">2</span></div>
<div class="c qb" style="left:423px;top:339px;width:28px;height:15px;"><span class="dd">对</span></div>
<div class="c bk" style="left:451px;top:339px;width:28px;height:15px;"><span class="dn">7</span></div>
<div class="c qb" style="left:479px;top:339px;width:28px;height:15px;"><span class="dd">对</span></div>
<div class="c bk" style="left:507px;top:339px;width:28px;height:15px;"><span class="dn">8</span></div>
<div class="c qb" style="left:535px;top:339px;width:27px;height:15px;"><span class="dd">对</span></div>
<div class="c bk" style="left:236px;top:356px;width:23px;height:15px;"><span class="dn">8</span></div>
<div class="c qb" style="left:259px;top:356px;width:24px;height:15px;"><span class="dd">对</span></div>
<div class="c bk" style="left:283px;top:356px;width:28px;height:15px;"><span class="dn">6</span></div>
<div class="c qb" style="left:311px;top:356px;width:28px;height:15px;"><span class="dd">对</span></div>
<div class="c bk" style="left:339px;top:356px;width:28px;height:15px;"><span class="dn">1</span></div>
<div class="c qb" style="left:367px;top:356px;width:28px;height:15px;"><i class="dot"></i></div>
<div class="c bk" style="left:395px;top:356px;width:28px;height:15px;"><span class="dn">6</span></div>
<div class="c qb" style="left:423px;top:356px;width:28px;height:15px;"><span class="dd">对</span></div>
<div class="c bk" style="left:451px;top:356px;width:28px;height:15px;"><span class="dn">6</span></div>
<div class="c qb" style="left:479px;top:356px;width:28px;height:15px;"><span class="dd">对</span></div>
<div class="c bk" style="left:507px;top:356px;width:28px;height:15px;"><span class="dn">7</span></div>
<div class="c qb" style="left:535px;top:356px;width:27px;height:15px;"><i class="dot"></i></div>
<div class="c bk" style="left:236px;top:373px;width:23px;height:15px;"><span class="dn">0</span></div>
<div class="c qb" style="left:259px;top:373px;width:24px;height:15px;"><span class="dd">对</span></div>
<div class="c bk" style="left:283px;top:373px;width:28px;height:15px;"><span class="dn">8</span></div>
<div class="c qb" style="left:311px;top:373px;width:28px;height:15px;"><span class="dd">对</span></div>
<div class="c bk" style="left:339px;top:373px;width:28px;height:15px;"><span class="dn">9</span></div>
<div class="c qb" style="left:367px;top:373px;width:28px;height:15px;"><span class="dd">对</span></div>
<div class="c bk" style="left:395px;top:373px;width:28px;height:15px;"><span class="dn">2</span></div>
<div class="c qb" style="left:423px;top:373px;width:28px;height:15px;"><span class="dd">对</span></div>
<div class="c bk" style="left:451px;top:373px;width:28px;height:15px;"><span class="dn">9</span></div>
<div class="c qb" style="left:479px;top:373px;width:28px;height:15px;"><span class="dd">对</span></div>
<div class="c bk" style="left:507px;top:373px;width:28px;height:15px;"><span class="dn">5</span></div>
<div class="c qb" style="left:535px;top:373px;width:27px;height:15px;"><span class="dd">对</span></div>
<div class="c bk" style="left:236px;top:390px;width:23px;height:15px;"><span class="dn">8</span></div>
<div class="c qb" style="left:259px;top:390px;width:24px;height:15px;"><span class="dd">对</span></div>
<div class="c bk" style="left:283px;top:390px;width:28px;height:15px;"><span class="dn">0</span></div>
<div class="c qb" style="left:311px;top:390px;width:28px;height:15px;"><span class="dd">对</span></div>
<div class="c bk" style="left:339px;top:390px;width:28px;height:15px;"><span class="dn">3</span></div>
<div class="c qb" style="left:367px;top:390px;width:28px;height:15px;"><span class="dd">对</span></div>
<div class="c bk" style="left:395px;top:390px;width:28px;height:15px;"><span class="dn">8</span></div>
<div class="c qb" style="left:423px;top:390px;width:28px;height:15px;"><span class="dd">对</span></div>
<div class="c bk" style="left:451px;top:390px;width:28px;height:15px;"><span class="dn">6</span></div>
<div class="c qb" style="left:479px;top:390px;width:28px;height:15px;"><span class="dd">对</span></div>
<div class="c bk" style="left:507px;top:390px;width:28px;height:15px;"><span class="dn">2</span></div>
<div class="c qb" style="left:535px;top:390px;width:27px;height:15px;"><span class="dd">对</span></div>
<div class="c bk" style="left:236px;top:407px;width:23px;height:15px;"><span class="dn">5</span></div>
<div class="c qb" style="left:259px;top:407px;width:24px;height:15px;"><span class="dd">对</span></div>
<div class="c bk" style="left:283px;top:407px;width:28px;height:15px;"><span class="dn">6</span></div>
<div class="c qb" style="left:311px;top:407px;width:28px;height:15px;"><span class="dd">对</span></div>
<div class="c bk" style="left:339px;top:407px;width:28px;height:15px;"><span class="dn">2</span></div>
<div class="c qb" style="left:367px;top:407px;width:28px;height:15px;"><span class="dd">对</span></div>
<div class="c bk" style="left:395px;top:407px;width:28px;height:15px;"><span class="dn">5</span></div>
<div class="c qb" style="left:423px;top:407px;width:28px;height:15px;"><i class="dot"></i></div>
<div class="c bk" style="left:451px;top:407px;width:28px;height:15px;"><span class="dn">3</span></div>
<div class="c qb" style="left:479px;top:407px;width:28px;height:15px;"><span class="dd">对</span></div>
<div class="c bk" style="left:507px;top:407px;width:28px;height:15px;"><span class="dn">5</span></div>
<div class="c qb" style="left:535px;top:407px;width:27px;height:15px;"><span class="dd">对</span></div>
<div class="c bk" style="left:236px;top:424px;width:23px;height:15px;"><span class="dn">2</span></div>
<div class="c qb" style="left:259px;top:424px;width:24px;height:15px;"><span class="dd">对</span></div>
<div class="c bk" style="left:283px;top:424px;width:28px;height:15px;"><span class="dn">6</span></div>
<div class="c qb" style="left:311px;top:424px;width:28px;height:15px;"><span class="dd">对</span></div>
<div class="c bk" style="left:339px;top:424px;width:28px;height:15px;"><span class="dn">0</span></div>
<div class="c qb" style="left:367px;top:424px;width:28px;height:15px;"><i class="dot"></i></div>
<div class="c bk" style="left:395px;top:424px;width:28px;height:15px;"><span class="dn">6</span></div>
<div class="c qb" style="left:423px;top:424px;width:28px;height:15px;"><span class="dd">对</span></div>
<div class="c bk" style="left:451px;top:424px;width:28px;height:15px;"><span class="dn">9</span></div>
<div class="c qb" style="left:479px;top:424px;width:28px;height:15px;"><span class="dd">对</span></div>
<div class="c bk" style="left:507px;top:424px;width:28px;height:15px;"><span class="dn">7</span></div>
<div class="c qb" style="left:535px;top:424px;width:27px;height:15px;"><span class="dd">对</span></div>
<div class="c bk" style="left:236px;top:441px;width:23px;height:15px;"><span class="dn">3</span></div>
<div class="c qb" style="left:259px;top:441px;width:24px;height:15px;"><span class="dd">对</span></div>
<div class="c bk" style="left:283px;top:441px;width:28px;height:15px;"><span class="dn">1</span></div>
<div class="c qb" style="left:311px;top:441px;width:28px;height:15px;"><span class="dd">对</span></div>
<div class="c bk" style="left:339px;top:441px;width:28px;height:15px;"><span class="dn">2</span></div>
<div class="c qb" style="left:367px;top:441px;width:28px;height:15px;"><span class="dd">对</span></div>
<div class="c bk" style="left:395px;top:441px;width:28px;height:15px;"><span class="dn">5</span></div>
<div class="c qb" style="left:423px;top:441px;width:28px;height:15px;"><span class="dd">对</span></div>
<div class="c bk" style="left:451px;top:441px;width:28px;height:15px;"><span class="dn">3</span></div>
<div class="c qb" style="left:479px;top:441px;width:28px;height:15px;"><span class="dd">对</span></div>
<div class="c bk" style="left:507px;top:441px;width:28px;height:15px;"><span class="dn">0</span></div>
<div class="c qb" style="left:535px;top:441px;width:27px;height:15px;"><span class="dd">对</span></div>
<div class="c bk" style="left:236px;top:458px;width:23px;height:15px;"><span class="dn">8</span></div>
<div class="c qb" style="left:259px;top:458px;width:24px;height:15px;"><span class="dd">对</span></div>
<div class="c bk" style="left:283px;top:458px;width:28px;height:15px;"><span class="dn">9</span></div>
<div class="c qb" style="left:311px;top:458px;width:28px;height:15px;"><i class="dot"></i></div>
<div class="c bk" style="left:339px;top:458px;width:28px;height:15px;"><span class="dn">6</span></div>
<div class="c qb" style="left:367px;top:458px;width:28px;height:15px;"><span class="dd">对</span></div>
<div class="c bk" style="left:395px;top:458px;width:28px;height:15px;"><span class="dn">7</span></div>
<div class="c qb" style="left:423px;top:458px;width:28px;height:15px;"><span class="dd">对</span></div>
<div class="c bk" style="left:451px;top:458px;width:28px;height:15px;"><span class="dn">8</span></div>
<div class="c qb" style="left:479px;top:458px;width:28px;height:15px;"><span class="dd">对</span></div>
<div class="c bk" style="left:507px;top:458px;width:28px;height:15px;"><span class="dn">2</span></div>
<div class="c qb" style="left:535px;top:458px;width:27px;height:15px;"><span class="dd">对</span></div>
<div class="c bk" style="left:236px;top:475px;width:23px;height:15px;"><span class="dn">4</span></div>
<div class="c qb" style="left:259px;top:475px;width:24px;height:15px;"><span class="dd">对</span></div>
<div class="c bk" style="left:283px;top:475px;width:28px;height:15px;"><span class="dn">3</span></div>
<div class="c qb" style="left:311px;top:475px;width:28px;height:15px;"><i class="dot"></i></div>
<div class="c bk" style="left:339px;top:475px;width:28px;height:15px;"><span class="dn">7</span></div>
<div class="c qb" style="left:367px;top:475px;width:28px;height:15px;"><span class="dd">对</span></div>
<div class="c bk" style="left:395px;top:475px;width:28px;height:15px;"><span class="dn">9</span></div>
<div class="c qb" style="left:423px;top:475px;width:28px;height:15px;"><span class="dd">对</span></div>
<div class="c bk" style="left:451px;top:475px;width:28px;height:15px;"><span class="dn">4</span></div>
<div class="c qb" style="left:479px;top:475px;width:28px;height:15px;"><span class="dd">对</span></div>
<div class="c bk" style="left:507px;top:475px;width:28px;height:15px;"><span class="dn">5</span></div>
<div class="c qb" style="left:535px;top:475px;width:27px;height:15px;"><span class="dd">对</span></div>
<div class="c bk" style="left:236px;top:492px;width:23px;height:15px;"><span class="dn">6</span></div>
<div class="c qb" style="left:259px;top:492px;width:24px;height:15px;"><span class="dd">对</span></div>
<div class="c bk" style="left:283px;top:492px;width:28px;height:15px;"><span class="dn">8</span></div>
<div class="c qb" style="left:311px;top:492px;width:28px;height:15px;"><span class="dd">对</span></div>
<div class="c bk" style="left:339px;top:492px;width:28px;height:15px;"><span class="dn">0</span></div>
<div class="c qb" style="left:367px;top:492px;width:28px;height:15px;"><i class="dot"></i></div>
<div class="c bk" style="left:395px;top:492px;width:28px;height:15px;"><span class="dn">1</span></div>
<div class="c qb" style="left:423px;top:492px;width:28px;height:15px;"><span class="dd">对</span></div>
<div class="c bk" style="left:451px;top:492px;width:28px;height:15px;"><span class="dn">5</span></div>
<div class="c qb" style="left:479px;top:492px;width:28px;height:15px;"><span class="dd">对</span></div>
<div class="c bk" style="left:507px;top:492px;width:28px;height:15px;"><span class="dn">7</span></div>
<div class="c qb" style="left:535px;top:492px;width:27px;height:15px;"><span class="dd">对</span></div>
<div class="c bk" style="left:236px;top:509px;width:23px;height:15px;"><span class="dn">3</span></div>
<div class="c qb" style="left:259px;top:509px;width:24px;height:15px;"><i class="dot"></i></div>
<div class="c bk" style="left:283px;top:509px;width:28px;height:15px;"><span class="dn">5</span></div>
<div class="c qb" style="left:311px;top:509px;width:28px;height:15px;"><span class="dd">对</span></div>
<div class="c bk" style="left:339px;top:509px;width:28px;height:15px;"><span class="dn">6</span></div>
<div class="c qb" style="left:367px;top:509px;width:28px;height:15px;"><span class="dd">对</span></div>
<div class="c bk" style="left:395px;top:509px;width:28px;height:15px;"><span class="dn">6</span></div>
<div class="c qb" style="left:423px;top:509px;width:28px;height:15px;"><span class="dd">对</span></div>
<div class="c bk" style="left:451px;top:509px;width:28px;height:15px;"><span class="dn">8</span></div>
<div class="c qb" style="left:479px;top:509px;width:28px;height:15px;"><span class="dd">对</span></div>
<div class="c bk" style="left:507px;top:509px;width:28px;height:15px;"><span class="dn">0</span></div>
<div class="c qb" style="left:535px;top:509px;width:27px;height:15px;"><span class="dd">对</span></div>
<div class="c bk" style="left:236px;top:526px;width:23px;height:15px;"><span class="dn">0</span></div>
<div class="c qb" style="left:259px;top:526px;width:24px;height:15px;"><span class="dd">对</span></div>
<div class="c bk" style="left:283px;top:526px;width:28px;height:15px;"><span class="dn">4</span></div>
<div class="c qb" style="left:311px;top:526px;width:28px;height:15px;"><span class="dd">对</span></div>
<div class="c bk" style="left:339px;top:526px;width:28px;height:15px;"><span class="dn">5</span></div>
<div class="c qb" style="left:367px;top:526px;width:28px;height:15px;"><span class="dd">对</span></div>
<div class="c bk" style="left:395px;top:526px;width:28px;height:15px;"><span class="dn">2</span></div>
<div class="c qb" style="left:423px;top:526px;width:28px;height:15px;"><span class="dd">对</span></div>
<div class="c bk" style="left:451px;top:526px;width:28px;height:15px;"><span class="dn">6</span></div>
<div class="c qb" style="left:479px;top:526px;width:28px;height:15px;"><span class="dd">对</span></div>
<div class="c bk" style="left:507px;top:526px;width:28px;height:15px;"><span class="dn">0</span></div>
<div class="c qb" style="left:535px;top:526px;width:27px;height:15px;"><span class="dd">对</span></div>
<div class="c bk" style="left:236px;top:543px;width:23px;height:15px;"><span class="dn">9</span></div>
<div class="c qb" style="left:259px;top:543px;width:24px;height:15px;"><span class="dd">对</span></div>
<div class="c bk" style="left:283px;top:543px;width:28px;height:15px;"><span class="dn">1</span></div>
<div class="c qb" style="left:311px;top:543px;width:28px;height:15px;"><span class="dd">对</span></div>
<div class="c bk" style="left:339px;top:543px;width:28px;height:15px;"><span class="dn">4</span></div>
<div class="c qb" style="left:367px;top:543px;width:28px;height:15px;"><span class="dd">对</span></div>
<div class="c bk" style="left:395px;top:543px;width:28px;height:15px;"><span class="dn">6</span></div>
<div class="c qb" style="left:423px;top:543px;width:28px;height:15px;"><span class="dd">对</span></div>
<div class="c bk" style="left:451px;top:543px;width:28px;height:15px;"><span class="dn">6</span></div>
<div class="c qb" style="left:479px;top:543px;width:28px;height:15px;"><i class="dot"></i></div>
<div class="c bk" style="left:507px;top:543px;width:28px;height:15px;"><span class="dn">2</span></div>
<div class="c qb" style="left:535px;top:543px;width:27px;height:15px;"><span class="dd">对</span></div>
<div class="c bk" style="left:236px;top:560px;width:23px;height:15px;"><span class="dn">5</span></div>
<div class="c qb" style="left:259px;top:560px;width:24px;height:15px;"><span class="dd">对</span></div>
<div class="c bk" style="left:283px;top:560px;width:28px;height:15px;"><span class="dn">7</span></div>
<div class="c qb" style="left:311px;top:560px;width:28px;height:15px;"><span class="dd">对</span></div>
<div class="c bk" style="left:339px;top:560px;width:28px;height:15px;"><span class="dn">9</span></div>
<div class="c qb" style="left:367px;top:560px;width:28px;height:15px;"><span class="dd">对</span></div>
<div class="c bk" style="left:395px;top:560px;width:28px;height:15px;"><span class="dn">2</span></div>
<div class="c qb" style="left:423px;top:560px;width:28px;height:15px;"><span class="dd">对</span></div>
<div class="c bk" style="left:451px;top:560px;width:28px;height:15px;"><span class="dn">5</span></div>
<div class="c qb" style="left:479px;top:560px;width:28px;height:15px;"><span class="dd">对</span></div>
<div class="c bk" style="left:507px;top:560px;width:28px;height:15px;"><span class="dn">7</span></div>
<div class="c qb" style="left:535px;top:560px;width:27px;height:15px;"><span class="dd">对</span></div>
<div style="left:236px;top:577px;width:23px;height:15px;background:#008000"></div>
<div class="qb" style="left:259px;top:577px;width:24px;height:15px;"></div>
<div style="left:283px;top:577px;width:28px;height:15px;background:#008000"></div>
<div class="qb" style="left:311px;top:577px;width:28px;height:15px;"></div>
<div style="left:339px;top:577px;width:28px;height:15px;background:#008000"></div>
<div class="qb" style="left:367px;top:577px;width:28px;height:15px;"></div>
<div style="left:395px;top:577px;width:28px;height:15px;background:#008000"></div>
<div class="qb" style="left:423px;top:577px;width:28px;height:15px;"></div>
<div style="left:451px;top:577px;width:28px;height:15px;background:#008000"></div>
<div class="qb" style="left:479px;top:577px;width:28px;height:15px;"></div>
<div style="left:507px;top:577px;width:28px;height:15px;background:#008000"></div>
<div class="qb" style="left:535px;top:577px;width:27px;height:15px;"></div>
<div class="wd" style="left:259px;top:46px;width:1px;height:533px;"></div>
<div class="wd" style="left:283px;top:46px;width:1px;height:533px;"></div>
<div class="wd" style="left:311px;top:46px;width:1px;height:533px;"></div>
<div class="wd" style="left:339px;top:46px;width:1px;height:533px;"></div>
<div class="wd" style="left:367px;top:46px;width:1px;height:533px;"></div>
<div class="wd" style="left:395px;top:46px;width:1px;height:533px;"></div>
<div class="wd" style="left:423px;top:46px;width:1px;height:533px;"></div>
<div class="wd" style="left:451px;top:46px;width:1px;height:533px;"></div>
<div class="wd" style="left:479px;top:46px;width:1px;height:533px;"></div>
<div class="wd" style="left:507px;top:46px;width:1px;height:533px;"></div>
<div class="wd" style="left:535px;top:46px;width:1px;height:533px;"></div>
<div style="left:582px;top:46px;width:195px;height:533px;background:#ff0000"></div>
<div class="c" style="left:582px;top:0px;width:195px;height:45px;background:#00ccff"><span class="t2">围蓝V</span></div>
<div style="left:582px;top:0px;width:195px;height:1px;background:#80e0ff"></div>
<div style="left:582px;top:45px;width:195px;height:1px;background:#303060"></div>
<div style="left:582px;top:46px;width:27px;height:18px;background:#00ccff"></div>
<div style="left:609px;top:46px;width:28px;height:18px;background:#00ccff;border-left:1px solid #202050"></div>
<div style="left:637px;top:46px;width:28px;height:18px;background:#00ccff;border-left:1px solid #202050"></div>
<div style="left:665px;top:46px;width:28px;height:18px;background:#00ccff;border-left:1px solid #202050"></div>
<div style="left:693px;top:46px;width:28px;height:18px;background:#00ccff;border-left:1px solid #202050"></div>
<div style="left:721px;top:46px;width:28px;height:18px;background:#00ccff;border-left:1px solid #202050"></div>
<div style="left:749px;top:46px;width:28px;height:18px;background:#00ccff;border-left:1px solid #202050"></div>
<div style="left:582px;top:63px;width:195px;height:1px;background:#800000"></div>
<div class="bl" style="left:583px;top:66px;width:26px;height:17px;"></div>
<div class="bl" style="left:610px;top:66px;width:27px;height:17px;"></div>
<div class="bl" style="left:638px;top:66px;width:27px;height:17px;"></div>
<div class="bl" style="left:666px;top:66px;width:27px;height:17px;"></div>
<div class="c wb" style="left:694px;top:66px;width:27px;height:17px;"><span class="wn">7</span></div>
<div class="c wb" style="left:722px;top:66px;width:27px;height:17px;"><span class="wn">4</span></div>
<div class="c rs" style="left:749px;top:67px;width:28px;height:15px;"><span class="ng">回<i>rx</i></span></div>
<div class="bl" style="left:583px;top:83px;width:26px;height:17px;"></div>
<div class="c wb" style="left:610px;top:83px;width:27px;height:17px;"><span class="wn">2</span></div>
<div class="c hl" style="left:638px;top:83px;width:27px;height:17px;"><span class="hn">6</span></div>
<div class="c wb" style="left:666px;top:83px;width:27px;height:17px;"><span class="wn">7</span></div>
<div class="c wb" style="left:694px;top:83px;width:27px;height:17px;"><span class="wn">4</span></div>
<div class="c wb" style="left:722px;top:83px;width:27px;height:17px;"><span class="wn">4</span></div>
<div class="c rs" style="left:749px;top:84px;width:28px;height:15px;"><span class="ok">√</span></div>
<div class="bl" style="left:583px;top:100px;width:26px;height:17px;"></div>
<div class="c wb" style="left:610px;top:100px;width:27px;height:17px;"><span class="wn">9</span></div>
<div class="c wb" style="left:638px;top:100px;width:27px;height:17px;"><span class="wn">0</span></div>
<div class="c wb" style="left:666px;top:100px;width:27px;height:17px;"><span class="wn">6</span></div>
<div class="c wb" style="left:694px;top:100px;width:27px;height:17px;"><span class="wn">9</span></div>
<div class="c wb" style="left:722px;top:100px;width:27px;height:17px;"><span class="wn">3</span></div>
<div class="c rs" style="left:749px;top:101px;width:28px;height:15px;"><span class="ng">回<i>rx</i></span></div>
<div class="bl" style="left:583px;top:117px;width:26px;height:17px;"></div>
<div class="c wb" style="left:610px;top:117px;width:27px;height:17px;"><span class="wn">1</span></div>
<div class="c hl" style="left:638px;top:117px;width:27px;height:17px;"><span class="hn">3</span></div>
<div class="c wb" style="left:666px;top:117px;width:27px;height:17px;"><span class="wn">7</span></div>
<div class="c wb" style="left:694px;top:117px;width:27px;height:17px;"><span class="wn">8</span></div>
<div class="c hl" style="left:722px;top:117px;width:27px;height:17px;"><span class="hn">3</span></div>
<div class="c rs" style="left:749px;top:118px;width:28px;height:15px;"><span class="ok">√</span></div>
<div class="bl" style="left:583px;top:134px;width:26px;height:17px;"></div>
<div class="c wb" style="left:610px;top:134px;width:27px;height:17px;"><span class="wn">4</span></div>
<div class="c wb" style="left:638px;top:134px;width:27px;height:17px;"><span class="wn">5</span></div>
<div class="c wb" style="left:666px;top:134px;width:27px;height:17px;"><span class="wn">8</span></div>
<div class="c wb" style="left:694px;top:134px;width:27px;height:17px;"><span class="wn">0</span></div>
<div class="c wb" style="left:722px;top:134px;width:27px;height:17px;"><span class="wn">9</span></div>
<div class="c rs" style="left:749px;top:135px;width:28px;height:15px;"><span class="ng">回<i>rx</i></span></div>
<div class="c hl" style="left:583px;top:151px;width:26px;height:17px;"><span class="hn">2</span></div>
<div class="c wb" style="left:610px;top:151px;width:27px;height:17px;"><span class="wn">9</span></div>
<div class="c wb" style="left:638px;top:151px;width:27px;height:17px;"><span class="wn">5</span></div>
<div class="c wb" style="left:666px;top:151px;width:27px;height:17px;"><span class="wn">6</span></div>
<div class="c wb" style="left:694px;top:151px;width:27px;height:17px;"><span class="wn">4</span></div>
<div class="c wb" style="left:722px;top:151px;width:27px;height:17px;"><span class="wn">6</span></div>
<div class="c rs" style="left:749px;top:152px;width:28px;height:15px;"><span class="ok">√</span></div>
<div class="bl" style="left:583px;top:168px;width:26px;height:17px;"></div>
<div class="bl" style="left:610px;top:168px;width:27px;height:17px;"></div>
<div class="c hl" style="left:638px;top:168px;width:27px;height:17px;"><span class="hn">1</span></div>
<div class="c wb" style="left:666px;top:168px;width:27px;height:17px;"><span class="wn">4</span></div>
<div class="c wb" style="left:694px;top:168px;width:27px;height:17px;"><span class="wn">8</span></div>
<div class="c wb" style="left:722px;top:168px;width:27px;height:17px;"><span class="wn">5</span></div>
<div class="c rs" style="left:749px;top:169px;width:28px;height:15px;"><span class="ok">√</span></div>
<div class="bl" style="left:583px;top:185px;width:26px;height:17px;"></div>
<div class="bl" style="left:610px;top:185px;width:27px;height:17px;"></div>
<div class="c wb" style="left:638px;top:185px;width:27px;height:17px;"><span class="wn">6</span></div>
<div class="c wb" style="left:666px;top:185px;width:27px;height:17px;"><span class="wn">8</span></div>
<div class="c wb" style="left:694px;top:185px;width:27px;height:17px;"><span class="wn">0</span></div>
<div class="c wb" style="left:722px;top:185px;width:27px;height:17px;"><span class="wn">6</span></div>
<div class="c rs" style="left:749px;top:186px;width:28px;height:15px;"><span class="ng">回<i>rx</i></span></div>
<div class="bl" style="left:583px;top:202px;width:26px;height:17px;"></div>
<div class="c wb" style="left:610px;top:202px;width:27px;height:17px;"><span class="wn">5</span></div>
<div class="c wb" style="left:638px;top:202px;width:27px;height:17px;"><span class="wn">9</span></div>
<div class="c wb" style="left:666px;top:202px;width:27px;height:17px;"><span class="wn">8</span></div>
<div class="c wb" style="left:694px;top:202px;width:27px;height:17px;"><span class="wn">4</span></div>
<div class="c wb" style="left:722px;top:202px;width:27px;height:17px;"><span class="wn">6</span></div>
<div class="c rs" style="left:749px;top:203px;width:28px;height:15px;"><span class="ng">回<i>rx</i></span></div>
<div class="bl" style="left:583px;top:219px;width:26px;height:17px;"></div>
<div class="c wb" style="left:610px;top:219px;width:27px;height:17px;"><span class="wn">4</span></div>
<div class="c wb" style="left:638px;top:219px;width:27px;height:17px;"><span class="wn">6</span></div>
<div class="c wb" style="left:666px;top:219px;width:27px;height:17px;"><span class="wn">9</span></div>
<div class="c wb" style="left:694px;top:219px;width:27px;height:17px;"><span class="wn">0</span></div>
<div class="c wb" style="left:722px;top:219px;width:27px;height:17px;"><span class="wn">4</span></div>
<div class="c rs" style="left:749px;top:220px;width:28px;height:15px;"><span class="ng">回<i>rx</i></span></div>
<div class="bl" style="left:583px;top:236px;width:26px;height:17px;"></div>
<div class="bl" style="left:610px;top:236px;width:27px;height:17px;"></div>
<div class="bl" style="left:638px;top:236px;width:27px;height:17px;"></div>
<div class="c wb" style="left:666px;top:236px;width:27px;height:17px;"><span class="wn">8</span></div>
<div class="c wb" style="left:694px;top:236px;width:27px;height:17px;"><span class="wn">3</span></div>
<div class="c wb" style="left:722px;top:236px;width:27px;height:17px;"><span class="wn">4</span></div>
<div class="c rs" style="left:749px;top:237px;width:28px;height:15px;"><span class="ng">回<i>rx</i></span></div>
<div class="c wb" style="left:583px;top:253px;width:26px;height:17px;"><span class="wn">7</span></div>
<div class="c wb" style="left:610px;top:253px;width:27px;height:17px;"><span class="wn">2</span></div>
<div class="c wb" style="left:638px;top:253px;width:27px;height:17px;"><span class="wn">4</span></div>
<div class="c wb" style="left:666px;top:253px;width:27px;height:17px;"><span class="wn">8</span></div>
<div class="c hl" style="left:694px;top:253px;width:27px;height:17px;"><span class="hn">3</span></div>
<div class="c wb" style="left:722px;top:253px;width:27px;height:17px;"><span class="wn">5</span></div>
<div class="c rs" style="left:749px;top:254px;width:28px;height:15px;"><span class="ok">√</span></div>
<div class="bl" style="left:583px;top:270px;width:26px;height:17px;"></div>
<div class="c wb" style="left:610px;top:270px;width:27px;height:17px;"><span class="wn">3</span></div>
<div class="c wb" style="left:638px;top:270px;width:27px;height:17px;"><span class="wn">6</span></div>
<div class="c hl" style="left:666px;top:270px;width:27px;height:17px;"><span class="hn">7</span></div>
<div class="c wb" style="left:694px;top:270px;width:27px;height:17px;"><span class="wn">5</span></div>
<div class="c wb" style="left:722px;top:270px;width:27px;height:17px;"><span class="wn">6</span></div>
<div class="c rs" style="left:749px;top:271px;width:28px;height:15px;"><span class="ok">√</span></div>
<div class="c wb" style="left:583px;top:287px;width:26px;height:17px;"><span class="wn">1</span></div>
<div class="c wb" style="left:610px;top:287px;width:27px;height:17px;"><span class="wn">3</span></div>
<div class="c wb" style="left:638px;top:287px;width:27px;height:17px;"><span class="wn">6</span></div>
<div class="c wb" style="left:666px;top:287px;width:27px;height:17px;"><span class="wn">7</span></div>
<div class="c wb" style="left:694px;top:287px;width:27px;height:17px;"><span class="wn">9</span></div>
<div class="c wb" style="left:722px;top:287px;width:27px;height:17px;"><span class="wn">5</span></div>
<div class="c rs" style="left:749px;top:288px;width:28px;height:15px;"><span class="ng">回<i>rx</i></span></div>
<div class="bl" style="left:583px;top:304px;width:26px;height:17px;"></div>
<div class="c hl" style="left:610px;top:304px;width:27px;height:17px;"><span class="hn">1</span></div>
<div class="c wb" style="left:638px;top:304px;width:27px;height:17px;"><span class="wn">3</span></div>
<div class="c wb" style="left:666px;top:304px;width:27px;height:17px;"><span class="wn">5</span></div>
<div class="c wb" style="left:694px;top:304px;width:27px;height:17px;"><span class="wn">3</span></div>
<div class="c wb" style="left:722px;top:304px;width:27px;height:17px;"><span class="wn">4</span></div>
<div class="c rs" style="left:749px;top:305px;width:28px;height:15px;"><span class="ok">√</span></div>
<div class="bl" style="left:583px;top:321px;width:26px;height:17px;"></div>
<div class="bl" style="left:610px;top:321px;width:27px;height:17px;"></div>
<div class="c wb" style="left:638px;top:321px;width:27px;height:17px;"><span class="wn">7</span></div>
<div class="c wb" style="left:666px;top:321px;width:27px;height:17px;"><span class="wn">8</span></div>
<div class="c wb" style="left:694px;top:321px;width:27px;height:17px;"><span class="wn">4</span></div>
<div class="c wb" style="left:722px;top:321px;width:27px;height:17px;"><span class="wn">8</span></div>
<div class="c rs" style="left:749px;top:322px;width:28px;height:15px;"><span class="ng">回<i>rx</i></span></div>
<div class="bl" style="left:583px;top:338px;width:26px;height:17px;"></div>
<div class="c wb" style="left:610px;top:338px;width:27px;height:17px;"><span class="wn">2</span></div>
<div class="c wb" style="left:638px;top:338px;width:27px;height:17px;"><span class="wn">9</span></div>
<div class="c wb" style="left:666px;top:338px;width:27px;height:17px;"><span class="wn">8</span></div>
<div class="c wb" style="left:694px;top:338px;width:27px;height:17px;"><span class="wn">4</span></div>
<div class="c hl" style="left:722px;top:338px;width:27px;height:17px;"><span class="hn">5</span></div>
<div class="c rs" style="left:749px;top:339px;width:28px;height:15px;"><span class="ok">√</span></div>
<div class="bl" style="left:583px;top:355px;width:26px;height:17px;"></div>
<div class="bl" style="left:610px;top:355px;width:27px;height:17px;"></div>
<div class="c wb" style="left:638px;top:355px;width:27px;height:17px;"><span class="wn">5</span></div>
<div class="c wb" style="left:666px;top:355px;width:27px;height:17px;"><span class="wn">0</span></div>
<div class="c hl" style="left:694px;top:355px;width:27px;height:17px;"><span class="hn">1</span></div>
<div class="c wb" style="left:722px;top:355px;width:27px;height:17px;"><span class="wn">3</span></div>
<div class="c rs" style="left:749px;top:356px;width:28px;height:15px;"><span class="ok">√</span></div>
<div class="bl" style="left:583px;top:372px;width:26px;height:17px;"></div>
<div class="c wb" style="left:610px;top:372px;width:27px;height:17px;"><span class="wn">1</span></div>
<div class="c wb" style="left:638px;top:372px;width:27px;height:17px;"><span class="wn">2</span></div>
<div class="c hl" style="left:666px;top:372px;width:27px;height:17px;"><span class="hn">5</span></div>
<div class="c wb" style="left:694px;top:372px;width:27px;height:17px;"><span class="wn">3</span></div>
<div class="c wb" style="left:722px;top:372px;width:27px;height:17px;"><span class="wn">9</span></div>
<div class="c rs" style="left:749px;top:373px;width:28px;height:15px;"><span class="ok">√</span></div>
<div class="bl" style="left:583px;top:389px;width:26px;height:17px;"></div>
<div class="c wb" style="left:610px;top:389px;width:27px;height:17px;"><span class="wn">2</span></div>
<div class="c wb" style="left:638px;top:389px;width:27px;height:17px;"><span class="wn">5</span></div>
<div class="c wb" style="left:666px;top:389px;width:27px;height:17px;"><span class="wn">0</span></div>
<div class="c wb" style="left:694px;top:389px;width:27px;height:17px;"><span class="wn">9</span></div>
<div class="c wb" style="left:722px;top:389px;width:27px;height:17px;"><span class="wn">6</span></div>
<div class="c rs" style="left:749px;top:390px;width:28px;height:15px;"><span class="ng">回<i>rx</i></span></div>
<div class="bl" style="left:583px;top:406px;width:26px;height:17px;"></div>
<div class="bl" style="left:610px;top:406px;width:27px;height:17px;"></div>
<div class="c wb" style="left:638px;top:406px;width:27px;height:17px;"><span class="wn">3</span></div>
<div class="c wb" style="left:666px;top:406px;width:27px;height:17px;"><span class="wn">6</span></div>
<div class="c wb" style="left:694px;top:406px;width:27px;height:17px;"><span class="wn">5</span></div>
<div class="c wb" style="left:722px;top:406px;width:27px;height:17px;"><span class="wn">7</span></div>
<div class="c rs" style="left:749px;top:407px;width:28px;height:15px;"><span class="ng">回<i>rx</i></span></div>
<div class="bl" style="left:583px;top:423px;width:26px;height:17px;"></div>
<div class="bl" style="left:610px;top:423px;width:27px;height:17px;"></div>
<div class="bl" style="left:638px;top:423px;width:27px;height:17px;"></div>
<div class="c wb" style="left:666px;top:423px;width:27px;height:17px;"><span class="wn">6</span></div>
<div class="c wb" style="left:694px;top:423px;width:27px;height:17px;"><span class="wn">9</span></div>
<div class="c wb" style="left:722px;top:423px;width:27px;height:17px;"><span class="wn">8</span></div>
<div class="c rs" style="left:749px;top:424px;width:28px;height:15px;"><span class="ng">回<i>rx</i></span></div>
<div class="bl" style="left:583px;top:440px;width:26px;height:17px;"></div>
<div class="bl" style="left:610px;top:440px;width:27px;height:17px;"></div>
<div class="c wb" style="left:638px;top:440px;width:27px;height:17px;"><span class="wn">1</span></div>
<div class="c wb" style="left:666px;top:440px;width:27px;height:17px;"><span class="wn">4</span></div>
<div class="c wb" style="left:694px;top:440px;width:27px;height:17px;"><span class="wn">3</span></div>
<div class="c wb" style="left:722px;top:440px;width:27px;height:17px;"><span class="wn">0</span></div>
<div class="c rs" style="left:749px;top:441px;width:28px;height:15px;"><span class="ng">回<i>rx</i></span></div>
<div class="bl" style="left:583px;top:457px;width:26px;height:17px;"></div>
<div class="bl" style="left:610px;top:457px;width:27px;height:17px;"></div>
<div class="c wb" style="left:638px;top:457px;width:27px;height:17px;"><span class="wn">4</span></div>
<div class="c wb" style="left:666px;top:457px;width:27px;height:17px;"><span class="wn">6</span></div>
<div class="c wb" style="left:694px;top:457px;width:27px;height:17px;"><span class="wn">7</span></div>
<div class="c wb" style="left:722px;top:457px;width:27px;height:17px;"><span class="wn">1</span></div>
<div class="c rs" style="left:749px;top:458px;width:28px;height:15px;"><span class="ng">回<i>rx</i></span></div>
<div class="c wb" style="left:583px;top:474px;width:26px;height:17px;"><span class="wn">1</span></div>
<div class="c wb" style="left:610px;top:474px;width:27px;height:17px;"><span class="wn">0</span></div>
<div class="c wb" style="left:638px;top:474px;width:27px;height:17px;"><span class="wn">5</span></div>
<div class="c wb" style="left:666px;top:474px;width:27px;height:17px;"><span class="wn">7</span></div>
<div class="c wb" style="left:694px;top:474px;width:27px;height:17px;"><span class="wn">3</span></div>
<div class="c wb" style="left:722px;top:474px;width:27px;height:17px;"><span class="wn">4</span></div>
<div class="c rs" style="left:749px;top:475px;width:28px;height:15px;"><span class="ng">回<i>rx</i></span></div>
<div class="bl" style="left:583px;top:491px;width:26px;height:17px;"></div>
<div class="bl" style="left:610px;top:491px;width:27px;height:17px;"></div>
<div class="bl" style="left:638px;top:491px;width:27px;height:17px;"></div>
<div class="c wb" style="left:666px;top:491px;width:27px;height:17px;"><span class="wn">8</span></div>
<div class="c wb" style="left:694px;top:491px;width:27px;height:17px;"><span class="wn">3</span></div>
<div class="c wb" style="left:722px;top:491px;width:27px;height:17px;"><span class="wn">5</span></div>
<div class="c rs" style="left:749px;top:492px;width:28px;height:15px;"><span class="ng">回<i>rx</i></span></div>
<div class="bl" style="left:583px;top:508px;width:26px;height:17px;"></div>
<div class="bl" style="left:610px;top:508px;width:27px;height:17px;"></div>
<div class="c wb" style="left:638px;top:508px;width:27px;height:17px;"><span class="wn">1</span></div>
<div class="c wb" style="left:666px;top:508px;width:27px;height:17px;"><span class="wn">2</span></div>
<div class="c hl" style="left:694px;top:508px;width:27px;height:17px;"><span class="hn">4</span></div>
<div class="c wb" style="left:722px;top:508px;width:27px;height:17px;"><span class="wn">6</span></div>
<div class="c rs" style="left:749px;top:509px;width:28px;height:15px;"><span class="ok">√</span></div>
<div class="bl" style="left:583px;top:525px;width:26px;height:17px;"></div>
<div class="bl" style="left:610px;top:525px;width:27px;height:17px;"></div>
<div class="c hl" style="left:638px;top:525px;width:27px;height:17px;"><span class="hn">9</span></div>
<div class="c wb" style="left:666px;top:525px;width:27px;height:17px;"><span class="wn">7</span></div>
<div class="c wb" style="left:694px;top:525px;width:27px;height:17px;"><span class="wn">1</span></div>
<div class="c wb" style="left:722px;top:525px;width:27px;height:17px;"><span class="wn">6</span></div>
<div class="c rs" style="left:749px;top:526px;width:28px;height:15px;"><span class="ok">√</span></div>
<div class="bl" style="left:583px;top:542px;width:26px;height:17px;"></div>
<div class="bl" style="left:610px;top:542px;width:27px;height:17px;"></div>
<div class="bl" style="left:638px;top:542px;width:27px;height:17px;"></div>
<div class="bl" style="left:666px;top:542px;width:27px;height:17px;"></div>
<div class="c wb" style="left:694px;top:542px;width:27px;height:17px;"><span class="wn">9</span></div>
<div class="c wb" style="left:722px;top:542px;width:27px;height:17px;"><span class="wn">6</span></div>
<div class="c rs" style="left:749px;top:543px;width:28px;height:15px;"><span class="ng">回<i>rx</i></span></div>
<div class="bl" style="left:583px;top:559px;width:26px;height:17px;"></div>
<div class="bl" style="left:610px;top:559px;width:27px;height:17px;"></div>
<div class="c wb" style="left:638px;top:559px;width:27px;height:17px;"><span class="wn">1</span></div>
<div class="c wb" style="left:666px;top:559px;width:27px;height:17px;"><span class="wn">4</span></div>
<div class="c wb" style="left:694px;top:559px;width:27px;height:17px;"><span class="wn">7</span></div>
<div class="c wb" style="left:722px;top:559px;width:27px;height:17px;"><span class="wn">0</span></div>
<div class="c rs" style="left:749px;top:560px;width:28px;height:15px;"><span class="ok">√</span></div>
<div style="left:777px;top:0px;width:3px;height:579px;background:#ff0000"></div>
<div style="left:777px;top:0px;width:1px;height:579px;background:#b00000"></div>
<div style="left:780px;top:0px;width:15px;height:579px;background:#ff00ff"></div>
<div style="left:1064px;top:0px;width:14px;height:579px;background:repeating-conic-gradient(#b82424 0 25%, #580000 0 50%) 0 0/2px 2px"></div>
<div style="left:795px;top:0px;width:269px;height:579px;background:#ffffff"></div>
<div class="c" style="left:795px;top:0px;width:269px;height:45px;background:#ff0000"><span class="t3">红胆V</span></div>
<div style="left:795px;top:0px;width:269px;height:1px;background:#ff9090"></div>
<div class="c" style="left:795px;top:45px;width:127px;height:19px;background:#000"><span class="t4">定胆法一</span></div>
<div class="c" style="left:931px;top:45px;width:135px;height:20px;background:#008000"><span class="t5">定胆法二</span></div>
<div class="c kb" style="left:796px;top:66px;width:26px;height:17px;"><span class="hk">4</span></div>
<div class="c" style="left:823px;top:66px;width:25px;height:17px;"><span class="hv">4</span></div>
<div class="c" style="left:848px;top:66px;width:25px;height:17px;"><span class="hv">14</span></div>
<div class="c" style="left:873px;top:66px;width:25px;height:17px;"><span class="hv">24</span></div>
<div class="c kb" style="left:932px;top:66px;width:24px;height:17px;"><span class="hk">8</span></div>
<div class="c" style="left:957px;top:66px;width:27px;height:17px;"><span class="hv">8</span></div>
<div class="c" style="left:984px;top:66px;width:27px;height:17px;"><span class="hv">18</span></div>
<div class="c" style="left:1011px;top:66px;width:27px;height:17px;"><span class="hv">28</span></div>
<div class="c kb" style="left:796px;top:83px;width:26px;height:17px;"><span class="hk">4</span></div>
<div class="c hg" style="left:823px;top:83px;width:25px;height:17px;"><span class="hh">4</span></div>
<div class="c" style="left:848px;top:83px;width:25px;height:17px;"><span class="hv">14</span></div>
<div class="c hg" style="left:873px;top:83px;width:25px;height:17px;"><span class="hh">24</span></div>
<div class="c kb" style="left:932px;top:83px;width:24px;height:17px;"><span class="hk">7</span></div>
<div class="c" style="left:957px;top:83px;width:27px;height:17px;"><span class="hv">7</span></div>
<div class="c" style="left:984px;top:83px;width:27px;height:17px;"><span class="hv">17</span></div>
<div class="c hg" style="left:1011px;top:83px;width:27px;height:17px;"><span class="hh">27</span></div>
<div class="c kb" style="left:796px;top:100px;width:26px;height:17px;"><span class="hk">3</span></div>
<div class="c" style="left:823px;top:100px;width:25px;height:17px;"><span class="hv">3</span></div>
<div class="c" style="left:848px;top:100px;width:25px;height:17px;"><span class="hv">13</span></div>
<div class="c" style="left:873px;top:100px;width:25px;height:17px;"><span class="hv">23</span></div>
<div class="c" style="left:898px;top:100px;width:24px;height:17px;"><span class="hv">33</span></div>
<div class="c kb" style="left:932px;top:100px;width:24px;height:17px;"><span class="hk">6</span></div>
<div class="c" style="left:957px;top:100px;width:27px;height:17px;"><span class="hv">6</span></div>
<div class="c hg" style="left:984px;top:100px;width:27px;height:17px;"><span class="hh">16</span></div>
<div class="c" style="left:1011px;top:100px;width:27px;height:17px;"><span class="hv">26</span></div>
<div class="c kb" style="left:796px;top:117px;width:26px;height:17px;"><span class="hk">3</span></div>
<div class="c" style="left:823px;top:117px;width:25px;height:17px;"><span class="hv">3</span></div>
<div class="c hg" style="left:848px;top:117px;width:25px;height:17px;"><span class="hh">13</span></div>
<div class="c" style="left:873px;top:117px;width:25px;height:17px;"><span class="hv">23</span></div>
<div class="c" style="left:898px;top:117px;width:24px;height:17px;"><span class="hv">33</span></div>
<div class="c kb" style="left:932px;top:117px;width:24px;height:17px;"><span class="hk">7</span></div>
<div class="c" style="left:957px;top:117px;width:27px;height:17px;"><span class="hv">7</span></div>
<div class="c hg" style="left:984px;top:117px;width:27px;height:17px;"><span class="hh">17</span></div>
<div class="c hg" style="left:1011px;top:117px;width:27px;height:17px;"><span class="hh">27</span></div>
<div class="c kb" style="left:796px;top:134px;width:26px;height:17px;"><span class="hk">9</span></div>
<div class="c" style="left:823px;top:134px;width:25px;height:17px;"><span class="hv">9</span></div>
<div class="c" style="left:848px;top:134px;width:25px;height:17px;"><span class="hv">19</span></div>
<div class="c" style="left:873px;top:134px;width:25px;height:17px;"><span class="hv">29</span></div>
<div class="c kb" style="left:932px;top:134px;width:24px;height:17px;"><span class="hk">8</span></div>
<div class="c" style="left:957px;top:134px;width:27px;height:17px;"><span class="hv">8</span></div>
<div class="c hg" style="left:984px;top:134px;width:27px;height:17px;"><span class="hh">18</span></div>
<div class="c" style="left:1011px;top:134px;width:27px;height:17px;"><span class="hv">28</span></div>
<div class="c kb" style="left:796px;top:151px;width:26px;height:17px;"><span class="hk">6</span></div>
<div class="c" style="left:823px;top:151px;width:25px;height:17px;"><span class="hv">6</span></div>
<div class="c" style="left:848px;top:151px;width:25px;height:17px;"><span class="hv">16</span></div>
<div class="c hg" style="left:873px;top:151px;width:25px;height:17px;"><span class="hh">26</span></div>
<div class="c kb" style="left:932px;top:151px;width:24px;height:17px;"><span class="hk">6</span></div>
<div class="c" style="left:957px;top:151px;width:27px;height:17px;"><span class="hv">6</span></div>
<div class="c" style="left:984px;top:151px;width:27px;height:17px;"><span class="hv">16</span></div>
<div class="c hg" style="left:1011px;top:151px;width:27px;height:17px;"><span class="hh">26</span></div>
<div class="c kb" style="left:796px;top:168px;width:26px;height:17px;"><span class="hk">5</span></div>
<div class="c" style="left:823px;top:168px;width:25px;height:17px;"><span class="hv">5</span></div>
<div class="c hg" style="left:848px;top:168px;width:25px;height:17px;"><span class="hh">15</span></div>
<div class="c" style="left:873px;top:168px;width:25px;height:17px;"><span class="hv">25</span></div>
<div class="c kb" style="left:932px;top:168px;width:24px;height:17px;"><span class="hk">4</span></div>
<div class="c" style="left:957px;top:168px;width:27px;height:17px;"><span class="hv">4</span></div>
<div class="c" style="left:984px;top:168px;width:27px;height:17px;"><span class="hv">14</span></div>
<div class="c" style="left:1011px;top:168px;width:27px;height:17px;"><span class="hv">24</span></div>
<div class="c kb" style="left:796px;top:185px;width:26px;height:17px;"><span class="hk">6</span></div>
<div class="c" style="left:823px;top:185px;width:25px;height:17px;"><span class="hv">6</span></div>
<div class="c" style="left:848px;top:185px;width:25px;height:17px;"><span class="hv">16</span></div>
<div class="c hg" style="left:873px;top:185px;width:25px;height:17px;"><span class="hh">26</span></div>
<div class="c kb" style="left:932px;top:185px;width:24px;height:17px;"><span class="hk">8</span></div>
<div class="c" style="left:957px;top:185px;width:27px;height:17px;"><span class="hv">8</span></div>
<div class="c hg" style="left:984px;top:185px;width:27px;height:17px;"><span class="hh">18</span></div>
<div class="c" style="left:1011px;top:185px;width:27px;height:17px;"><span class="hv">28</span></div>
<div class="c kb" style="left:796px;top:202px;width:26px;height:17px;"><span class="hk">6</span></div>
<div class="c" style="left:823px;top:202px;width:25px;height:17px;"><span class="hv">6</span></div>
<div class="c" style="left:848px;top:202px;width:25px;height:17px;"><span class="hv">16</span></div>
<div class="c" style="left:873px;top:202px;width:25px;height:17px;"><span class="hv">26</span></div>
<div class="c kb" style="left:932px;top:202px;width:24px;height:17px;"><span class="hk">8</span></div>
<div class="c hg" style="left:957px;top:202px;width:27px;height:17px;"><span class="hh">8</span></div>
<div class="c" style="left:984px;top:202px;width:27px;height:17px;"><span class="hv">18</span></div>
<div class="c hg" style="left:1011px;top:202px;width:27px;height:17px;"><span class="hh">28</span></div>
<div class="c kb" style="left:796px;top:219px;width:26px;height:17px;"><span class="hk">4</span></div>
<div class="c" style="left:823px;top:219px;width:25px;height:17px;"><span class="hv">4</span></div>
<div class="c" style="left:848px;top:219px;width:25px;height:17px;"><span class="hv">14</span></div>
<div class="c" style="left:873px;top:219px;width:25px;height:17px;"><span class="hv">24</span></div>
<div class="c kb" style="left:932px;top:219px;width:24px;height:17px;"><span class="hk">9</span></div>
<div class="c hg" style="left:957px;top:219px;width:27px;height:17px;"><span class="hh">9</span></div>
<div class="c" style="left:984px;top:219px;width:27px;height:17px;"><span class="hv">19</span></div>
<div class="c" style="left:1011px;top:219px;width:27px;height:17px;"><span class="hv">29</span></div>
<div class="c kb" style="left:796px;top:236px;width:26px;height:17px;"><span class="hk">4</span></div>
<div class="c" style="left:823px;top:236px;width:25px;height:17px;"><span class="hv">4</span></div>
<div class="c" style="left:848px;top:236px;width:25px;height:17px;"><span class="hv">14</span></div>
<div class="c" style="left:873px;top:236px;width:25px;height:17px;"><span class="hv">24</span></div>
<div class="c kb" style="left:932px;top:236px;width:24px;height:17px;"><span class="hk">8</span></div>
<div class="c" style="left:957px;top:236px;width:27px;height:17px;"><span class="hv">8</span></div>
<div class="c" style="left:984px;top:236px;width:27px;height:17px;"><span class="hv">18</span></div>
<div class="c" style="left:1011px;top:236px;width:27px;height:17px;"><span class="hv">28</span></div>
<div class="c kb" style="left:796px;top:253px;width:26px;height:17px;"><span class="hk">5</span></div>
<div class="c" style="left:823px;top:253px;width:25px;height:17px;"><span class="hv">5</span></div>
<div class="c" style="left:848px;top:253px;width:25px;height:17px;"><span class="hv">15</span></div>
<div class="c hg" style="left:873px;top:253px;width:25px;height:17px;"><span class="hh">25</span></div>
<div class="c kb" style="left:932px;top:253px;width:24px;height:17px;"><span class="hk">8</span></div>
<div class="c" style="left:957px;top:253px;width:27px;height:17px;"><span class="hv">8</span></div>
<div class="c" style="left:984px;top:253px;width:27px;height:17px;"><span class="hv">18</span></div>
<div class="c" style="left:1011px;top:253px;width:27px;height:17px;"><span class="hv">28</span></div>
<div class="c kb" style="left:796px;top:270px;width:26px;height:17px;"><span class="hk">6</span></div>
<div class="c" style="left:823px;top:270px;width:25px;height:17px;"><span class="hv">6</span></div>
<div class="c" style="left:848px;top:270px;width:25px;height:17px;"><span class="hv">16</span></div>
<div class="c" style="left:873px;top:270px;width:25px;height:17px;"><span class="hv">26</span></div>
<div class="c kb" style="left:932px;top:270px;width:24px;height:17px;"><span class="hk">7</span></div>
<div class="c" style="left:957px;top:270px;width:27px;height:17px;"><span class="hv">7</span></div>
<div class="c" style="left:984px;top:270px;width:27px;height:17px;"><span class="hv">17</span></div>
<div class="c hg" style="left:1011px;top:270px;width:27px;height:17px;"><span class="hh">27</span></div>
<div class="c kb" style="left:796px;top:287px;width:26px;height:17px;"><span class="hk">5</span></div>
<div class="c" style="left:823px;top:287px;width:25px;height:17px;"><span class="hv">5</span></div>
<div class="c" style="left:848px;top:287px;width:25px;height:17px;"><span class="hv">15</span></div>
<div class="c" style="left:873px;top:287px;width:25px;height:17px;"><span class="hv">25</span></div>
<div class="c kb" style="left:932px;top:287px;width:24px;height:17px;"><span class="hk">7</span></div>
<div class="c" style="left:957px;top:287px;width:27px;height:17px;"><span class="hv">7</span></div>
<div class="c" style="left:984px;top:287px;width:27px;height:17px;"><span class="hv">17</span></div>
<div class="c" style="left:1011px;top:287px;width:27px;height:17px;"><span class="hv">27</span></div>
<div class="c kb" style="left:796px;top:304px;width:26px;height:17px;"><span class="hk">4</span></div>
<div class="c" style="left:823px;top:304px;width:25px;height:17px;"><span class="hv">4</span></div>
<div class="c" style="left:848px;top:304px;width:25px;height:17px;"><span class="hv">14</span></div>
<div class="c" style="left:873px;top:304px;width:25px;height:17px;"><span class="hv">24</span></div>
<div class="c kb" style="left:932px;top:304px;width:24px;height:17px;"><span class="hk">5</span></div>
<div class="c" style="left:957px;top:304px;width:27px;height:17px;"><span class="hv">5</span></div>
<div class="c" style="left:984px;top:304px;width:27px;height:17px;"><span class="hv">15</span></div>
<div class="c" style="left:1011px;top:304px;width:27px;height:17px;"><span class="hv">25</span></div>
<div class="c kb" style="left:796px;top:321px;width:26px;height:17px;"><span class="hk">8</span></div>
<div class="c hg" style="left:823px;top:321px;width:25px;height:17px;"><span class="hh">8</span></div>
<div class="c hg" style="left:848px;top:321px;width:25px;height:17px;"><span class="hh">18</span></div>
<div class="c" style="left:873px;top:321px;width:25px;height:17px;"><span class="hv">28</span></div>
<div class="c kb" style="left:932px;top:321px;width:24px;height:17px;"><span class="hk">8</span></div>
<div class="c hg" style="left:957px;top:321px;width:27px;height:17px;"><span class="hh">8</span></div>
<div class="c hg" style="left:984px;top:321px;width:27px;height:17px;"><span class="hh">18</span></div>
<div class="c" style="left:1011px;top:321px;width:27px;height:17px;"><span class="hv">28</span></div>
<div class="c kb" style="left:796px;top:338px;width:26px;height:17px;"><span class="hk">5</span></div>
<div class="c" style="left:823px;top:338px;width:25px;height:17px;"><span class="hv">5</span></div>
<div class="c" style="left:848px;top:338px;width:25px;height:17px;"><span class="hv">15</span></div>
<div class="c" style="left:873px;top:338px;width:25px;height:17px;"><span class="hv">25</span></div>
<div class="c kb" style="left:932px;top:338px;width:24px;height:17px;"><span class="hk">8</span></div>
<div class="c" style="left:957px;top:338px;width:27px;height:17px;"><span class="hv">8</span></div>
<div class="c" style="left:984px;top:338px;width:27px;height:17px;"><span class="hv">18</span></div>
<div class="c" style="left:1011px;top:338px;width:27px;height:17px;"><span class="hv">28</span></div>
<div class="c kb" style="left:796px;top:355px;width:26px;height:17px;"><span class="hk">3</span></div>
<div class="c" style="left:823px;top:355px;width:25px;height:17px;"><span class="hv">3</span></div>
<div class="c" style="left:848px;top:355px;width:25px;height:17px;"><span class="hv">13</span></div>
<div class="c" style="left:873px;top:355px;width:25px;height:17px;"><span class="hv">23</span></div>
<div class="c" style="left:898px;top:355px;width:24px;height:17px;"><span class="hv">33</span></div>
<div class="c kb" style="left:932px;top:355px;width:24px;height:17px;"><span class="hk">0</span></div>
<div class="c hg" style="left:957px;top:355px;width:27px;height:17px;"><span class="hh">10</span></div>
<div class="c" style="left:984px;top:355px;width:27px;height:17px;"><span class="hv">20</span></div>
<div class="c" style="left:1011px;top:355px;width:27px;height:17px;"><span class="hv">30</span></div>
<div class="c kb" style="left:796px;top:372px;width:26px;height:17px;"><span class="hk">9</span></div>
<div class="c hg" style="left:823px;top:372px;width:25px;height:17px;"><span class="hh">9</span></div>
<div class="c hg" style="left:848px;top:372px;width:25px;height:17px;"><span class="hh">19</span></div>
<div class="c" style="left:873px;top:372px;width:25px;height:17px;"><span class="hv">29</span></div>
<div class="c kb" style="left:932px;top:372px;width:24px;height:17px;"><span class="hk">5</span></div>
<div class="c" style="left:957px;top:372px;width:27px;height:17px;"><span class="hv">5</span></div>
<div class="c" style="left:984px;top:372px;width:27px;height:17px;"><span class="hv">15</span></div>
<div class="c" style="left:1011px;top:372px;width:27px;height:17px;"><span class="hv">25</span></div>
<div class="c kb" style="left:796px;top:389px;width:26px;height:17px;"><span class="hk">6</span></div>
<div class="c hg" style="left:823px;top:389px;width:25px;height:17px;"><span class="hh">6</span></div>
<div class="c" style="left:848px;top:389px;width:25px;height:17px;"><span class="hv">16</span></div>
<div class="c" style="left:873px;top:389px;width:25px;height:17px;"><span class="hv">26</span></div>
<div class="c kb" style="left:932px;top:389px;width:24px;height:17px;"><span class="hk">0</span></div>
<div class="c" style="left:957px;top:389px;width:27px;height:17px;"><span class="hv">10</span></div>
<div class="c" style="left:984px;top:389px;width:27px;height:17px;"><span class="hv">20</span></div>
<div class="c" style="left:1011px;top:389px;width:27px;height:17px;"><span class="hv">30</span></div>
<div class="c kb" style="left:796px;top:406px;width:26px;height:17px;"><span class="hk">7</span></div>
<div class="c" style="left:823px;top:406px;width:25px;height:17px;"><span class="hv">7</span></div>
<div class="c" style="left:848px;top:406px;width:25px;height:17px;"><span class="hv">17</span></div>
<div class="c" style="left:873px;top:406px;width:25px;height:17px;"><span class="hv">27</span></div>
<div class="c kb" style="left:932px;top:406px;width:24px;height:17px;"><span class="hk">6</span></div>
<div class="c" style="left:957px;top:406px;width:27px;height:17px;"><span class="hv">6</span></div>
<div class="c" style="left:984px;top:406px;width:27px;height:17px;"><span class="hv">16</span></div>
<div class="c hg" style="left:1011px;top:406px;width:27px;height:17px;"><span class="hh">26</span></div>
<div class="c kb" style="left:796px;top:423px;width:26px;height:17px;"><span class="hk">8</span></div>
<div class="c" style="left:823px;top:423px;width:25px;height:17px;"><span class="hv">8</span></div>
<div class="c" style="left:848px;top:423px;width:25px;height:17px;"><span class="hv">18</span></div>
<div class="c hg" style="left:873px;top:423px;width:25px;height:17px;"><span class="hh">28</span></div>
<div class="c kb" style="left:932px;top:423px;width:24px;height:17px;"><span class="hk">6</span></div>
<div class="c" style="left:957px;top:423px;width:27px;height:17px;"><span class="hv">6</span></div>
<div class="c" style="left:984px;top:423px;width:27px;height:17px;"><span class="hv">16</span></div>
<div class="c" style="left:1011px;top:423px;width:27px;height:17px;"><span class="hv">26</span></div>
<div class="c kb" style="left:796px;top:440px;width:26px;height:17px;"><span class="hk">0</span></div>
<div class="c" style="left:823px;top:440px;width:25px;height:17px;"><span class="hv">10</span></div>
<div class="c" style="left:848px;top:440px;width:25px;height:17px;"><span class="hv">20</span></div>
<div class="c" style="left:873px;top:440px;width:25px;height:17px;"><span class="hv">30</span></div>
<div class="c kb" style="left:932px;top:440px;width:24px;height:17px;"><span class="hk">4</span></div>
<div class="c" style="left:957px;top:440px;width:27px;height:17px;"><span class="hv">4</span></div>
<div class="c" style="left:984px;top:440px;width:27px;height:17px;"><span class="hv">14</span></div>
<div class="c hg" style="left:1011px;top:440px;width:27px;height:17px;"><span class="hh">24</span></div>
<div class="c kb" style="left:796px;top:457px;width:26px;height:17px;"><span class="hk">1</span></div>
<div class="c" style="left:823px;top:457px;width:25px;height:17px;"><span class="hv">1</span></div>
<div class="c" style="left:848px;top:457px;width:25px;height:17px;"><span class="hv">11</span></div>
<div class="c" style="left:873px;top:457px;width:25px;height:17px;"><span class="hv">21</span></div>
<div class="c hg" style="left:898px;top:457px;width:24px;height:17px;"><span class="hh">31</span></div>
<div class="c kb" style="left:932px;top:457px;width:24px;height:17px;"><span class="hk">6</span></div>
<div class="c" style="left:957px;top:457px;width:27px;height:17px;"><span class="hv">6</span></div>
<div class="c" style="left:984px;top:457px;width:27px;height:17px;"><span class="hv">16</span></div>
<div class="c" style="left:1011px;top:457px;width:27px;height:17px;"><span class="hv">26</span></div>
<div class="c kb" style="left:796px;top:474px;width:26px;height:17px;"><span class="hk">4</span></div>
<div class="c" style="left:823px;top:474px;width:25px;height:17px;"><span class="hv">4</span></div>
<div class="c" style="left:848px;top:474px;width:25px;height:17px;"><span class="hv">14</span></div>
<div class="c" style="left:873px;top:474px;width:25px;height:17px;"><span class="hv">24</span></div>
<div class="c kb" style="left:932px;top:474px;width:24px;height:17px;"><span class="hk">7</span></div>
<div class="c" style="left:957px;top:474px;width:27px;height:17px;"><span class="hv">7</span></div>
<div class="c" style="left:984px;top:474px;width:27px;height:17px;"><span class="hv">17</span></div>
<div class="c" style="left:1011px;top:474px;width:27px;height:17px;"><span class="hv">27</span></div>
<div class="c kb" style="left:796px;top:491px;width:26px;height:17px;"><span class="hk">5</span></div>
<div class="c" style="left:823px;top:491px;width:25px;height:17px;"><span class="hv">5</span></div>
<div class="c" style="left:848px;top:491px;width:25px;height:17px;"><span class="hv">15</span></div>
<div class="c" style="left:873px;top:491px;width:25px;height:17px;"><span class="hv">25</span></div>
<div class="c kb" style="left:932px;top:491px;width:24px;height:17px;"><span class="hk">8</span></div>
<div class="c" style="left:957px;top:491px;width:27px;height:17px;"><span class="hv">8</span></div>
<div class="c" style="left:984px;top:491px;width:27px;height:17px;"><span class="hv">18</span></div>
<div class="c" style="left:1011px;top:491px;width:27px;height:17px;"><span class="hv">28</span></div>
<div class="c kb" style="left:796px;top:508px;width:26px;height:17px;"><span class="hk">6</span></div>
<div class="c" style="left:823px;top:508px;width:25px;height:17px;"><span class="hv">6</span></div>
<div class="c" style="left:848px;top:508px;width:25px;height:17px;"><span class="hv">16</span></div>
<div class="c" style="left:873px;top:508px;width:25px;height:17px;"><span class="hv">26</span></div>
<div class="c kb" style="left:932px;top:508px;width:24px;height:17px;"><span class="hk">2</span></div>
<div class="c" style="left:957px;top:508px;width:27px;height:17px;"><span class="hv">2</span></div>
<div class="c" style="left:984px;top:508px;width:27px;height:17px;"><span class="hv">12</span></div>
<div class="c" style="left:1011px;top:508px;width:27px;height:17px;"><span class="hv">22</span></div>
<div class="c" style="left:1038px;top:508px;width:26px;height:17px;"><span class="hv">32</span></div>
<div class="c kb" style="left:796px;top:525px;width:26px;height:17px;"><span class="hk">6</span></div>
<div class="c hg" style="left:823px;top:525px;width:25px;height:17px;"><span class="hh">6</span></div>
<div class="c" style="left:848px;top:525px;width:25px;height:17px;"><span class="hv">16</span></div>
<div class="c" style="left:873px;top:525px;width:25px;height:17px;"><span class="hv">26</span></div>
<div class="c kb" style="left:932px;top:525px;width:24px;height:17px;"><span class="hk">7</span></div>
<div class="c" style="left:957px;top:525px;width:27px;height:17px;"><span class="hv">7</span></div>
<div class="c" style="left:984px;top:525px;width:27px;height:17px;"><span class="hv">17</span></div>
<div class="c" style="left:1011px;top:525px;width:27px;height:17px;"><span class="hv">27</span></div>
<div class="c kb" style="left:796px;top:542px;width:26px;height:17px;"><span class="hk">6</span></div>
<div class="c hg" style="left:823px;top:542px;width:25px;height:17px;"><span class="hh">6</span></div>
<div class="c hg" style="left:848px;top:542px;width:25px;height:17px;"><span class="hh">16</span></div>
<div class="c" style="left:873px;top:542px;width:25px;height:17px;"><span class="hv">26</span></div>
<div class="c kb" style="left:932px;top:542px;width:24px;height:17px;"><span class="hk">6</span></div>
<div class="c hg" style="left:957px;top:542px;width:27px;height:17px;"><span class="hh">6</span></div>
<div class="c hg" style="left:984px;top:542px;width:27px;height:17px;"><span class="hh">16</span></div>
<div class="c" style="left:1011px;top:542px;width:27px;height:17px;"><span class="hv">26</span></div>
<div class="c kb" style="left:796px;top:559px;width:26px;height:17px;"><span class="hk">0</span></div>
<div class="c" style="left:823px;top:559px;width:25px;height:17px;"><span class="hv">10</span></div>
<div class="c" style="left:848px;top:559px;width:25px;height:17px;"><span class="hv">20</span></div>
<div class="c" style="left:873px;top:559px;width:25px;height:17px;"><span class="hv">30</span></div>
<div class="c hg" style="left:898px;top:559px;width:24px;height:17px;"></div>
<div class="c kb" style="left:932px;top:559px;width:24px;height:17px;"><span class="hk">4</span></div>
<div class="c" style="left:957px;top:559px;width:27px;height:17px;"><span class="hv">4</span></div>
<div class="c" style="left:984px;top:559px;width:27px;height:17px;"><span class="hv">14</span></div>
<div class="c" style="left:1011px;top:559px;width:27px;height:17px;"><span class="hv">24</span></div>
<div class="c hg" style="left:1038px;top:559px;width:26px;height:17px;"></div>
<div class="kb" style="left:796px;top:576px;width:26px;height:17px;"></div>
<div class="kb" style="left:932px;top:576px;width:24px;height:17px;"></div>
<div style="left:824px;top:577px;width:6px;height:3px;background:#119911;clip-path:polygon(0 0,100% 0,50% 100%)"></div>
<div style="left:849px;top:577px;width:6px;height:3px;background:#119911;clip-path:polygon(0 0,100% 0,50% 100%)"></div>
<div style="left:874px;top:577px;width:6px;height:3px;background:#119911;clip-path:polygon(0 0,100% 0,50% 100%)"></div>
<div style="left:899px;top:577px;width:6px;height:3px;background:#119911;clip-path:polygon(0 0,100% 0,50% 100%)"></div>
<div style="left:958px;top:577px;width:6px;height:3px;background:#119911;clip-path:polygon(0 0,100% 0,50% 100%)"></div>
<div style="left:985px;top:577px;width:6px;height:3px;background:#119911;clip-path:polygon(0 0,100% 0,50% 100%)"></div>
<div style="left:1012px;top:577px;width:6px;height:3px;background:#119911;clip-path:polygon(0 0,100% 0,50% 100%)"></div>
<div style="left:1039px;top:577px;width:6px;height:3px;background:#119911;clip-path:polygon(0 0,100% 0,50% 100%)"></div>
<div class="vr" style="left:822px;top:64px;width:2px;height:515px;"></div>
<div class="vr" style="left:847px;top:64px;width:2px;height:515px;"></div>
<div class="vr" style="left:872px;top:64px;width:2px;height:515px;"></div>
<div class="vr" style="left:897px;top:64px;width:2px;height:515px;"></div>
<div class="vr" style="left:921px;top:64px;width:2px;height:515px;"></div>
<div class="hr2" style="left:822px;top:65px;width:101px;height:2px;"></div>
<div class="hr2" style="left:822px;top:82px;width:101px;height:2px;"></div>
<div class="hr2" style="left:822px;top:99px;width:101px;height:2px;"></div>
<div class="hr2" style="left:822px;top:116px;width:101px;height:2px;"></div>
<div class="hr2" style="left:822px;top:133px;width:101px;height:2px;"></div>
<div class="hr2" style="left:822px;top:150px;width:101px;height:2px;"></div>
<div class="hr2" style="left:822px;top:167px;width:101px;height:2px;"></div>
<div class="hr2" style="left:822px;top:184px;width:101px;height:2px;"></div>
<div class="hr2" style="left:822px;top:201px;width:101px;height:2px;"></div>
<div class="hr2" style="left:822px;top:218px;width:101px;height:2px;"></div>
<div class="hr2" style="left:822px;top:235px;width:101px;height:2px;"></div>
<div class="hr2" style="left:822px;top:252px;width:101px;height:2px;"></div>
<div class="hr2" style="left:822px;top:269px;width:101px;height:2px;"></div>
<div class="hr2" style="left:822px;top:286px;width:101px;height:2px;"></div>
<div class="hr2" style="left:822px;top:303px;width:101px;height:2px;"></div>
<div class="hr2" style="left:822px;top:320px;width:101px;height:2px;"></div>
<div class="hr2" style="left:822px;top:337px;width:101px;height:2px;"></div>
<div class="hr2" style="left:822px;top:354px;width:101px;height:2px;"></div>
<div class="hr2" style="left:822px;top:371px;width:101px;height:2px;"></div>
<div class="hr2" style="left:822px;top:388px;width:101px;height:2px;"></div>
<div class="hr2" style="left:822px;top:405px;width:101px;height:2px;"></div>
<div class="hr2" style="left:822px;top:422px;width:101px;height:2px;"></div>
<div class="hr2" style="left:822px;top:439px;width:101px;height:2px;"></div>
<div class="hr2" style="left:822px;top:456px;width:101px;height:2px;"></div>
<div class="hr2" style="left:822px;top:473px;width:101px;height:2px;"></div>
<div class="hr2" style="left:822px;top:490px;width:101px;height:2px;"></div>
<div class="hr2" style="left:822px;top:507px;width:101px;height:2px;"></div>
<div class="hr2" style="left:822px;top:524px;width:101px;height:2px;"></div>
<div class="hr2" style="left:822px;top:541px;width:101px;height:2px;"></div>
<div class="hr2" style="left:822px;top:558px;width:101px;height:2px;"></div>
<div class="hr2" style="left:822px;top:575px;width:101px;height:2px;"></div>
<div class="vg" style="left:983px;top:65px;width:2px;height:514px;"></div>
<div class="vg" style="left:1010px;top:65px;width:2px;height:514px;"></div>
<div class="vg" style="left:1037px;top:65px;width:2px;height:514px;"></div>
<div class="vg" style="left:1064px;top:65px;width:2px;height:514px;"></div>
<div class="hg2" style="left:957px;top:65px;width:109px;height:2px;"></div>
<div class="hg2" style="left:957px;top:82px;width:109px;height:2px;"></div>
<div class="hg2" style="left:957px;top:99px;width:109px;height:2px;"></div>
<div class="hg2" style="left:957px;top:116px;width:109px;height:2px;"></div>
<div class="hg2" style="left:957px;top:133px;width:109px;height:2px;"></div>
<div class="hg2" style="left:957px;top:150px;width:109px;height:2px;"></div>
<div class="hg2" style="left:957px;top:167px;width:109px;height:2px;"></div>
<div class="hg2" style="left:957px;top:184px;width:109px;height:2px;"></div>
<div class="hg2" style="left:957px;top:201px;width:109px;height:2px;"></div>
<div class="hg2" style="left:957px;top:218px;width:109px;height:2px;"></div>
<div class="hg2" style="left:957px;top:235px;width:109px;height:2px;"></div>
<div class="hg2" style="left:957px;top:252px;width:109px;height:2px;"></div>
<div class="hg2" style="left:957px;top:269px;width:109px;height:2px;"></div>
<div class="hg2" style="left:957px;top:286px;width:109px;height:2px;"></div>
<div class="hg2" style="left:957px;top:303px;width:109px;height:2px;"></div>
<div class="hg2" style="left:957px;top:320px;width:109px;height:2px;"></div>
<div class="hg2" style="left:957px;top:337px;width:109px;height:2px;"></div>
<div class="hg2" style="left:957px;top:354px;width:109px;height:2px;"></div>
<div class="hg2" style="left:957px;top:371px;width:109px;height:2px;"></div>
<div class="hg2" style="left:957px;top:388px;width:109px;height:2px;"></div>
<div class="hg2" style="left:957px;top:405px;width:109px;height:2px;"></div>
<div class="hg2" style="left:957px;top:422px;width:109px;height:2px;"></div>
<div class="hg2" style="left:957px;top:439px;width:109px;height:2px;"></div>
<div class="hg2" style="left:957px;top:456px;width:109px;height:2px;"></div>
<div class="hg2" style="left:957px;top:473px;width:109px;height:2px;"></div>
<div class="hg2" style="left:957px;top:490px;width:109px;height:2px;"></div>
<div class="hg2" style="left:957px;top:507px;width:109px;height:2px;"></div>
<div class="hg2" style="left:957px;top:524px;width:109px;height:2px;"></div>
<div class="hg2" style="left:957px;top:541px;width:109px;height:2px;"></div>
<div class="hg2" style="left:957px;top:558px;width:109px;height:2px;"></div>
<div class="hg2" style="left:957px;top:575px;width:109px;height:2px;"></div>
<div style="left:930px;top:64px;width:1px;height:515px;background:#c0a0a0"></div>
<div style="left:975px;top:1px;width:102px;height:20px;background:#fff;border:1px solid #e0c0c0;box-sizing:border-box"></div>
<div style="left:979px;top:5px;width:12px;height:11px;background:#f0f000"></div>
<div style="left:994px;top:0px;width:84px;height:21px;"><span class="wm">cz89.com</span></div>
</body></html>
